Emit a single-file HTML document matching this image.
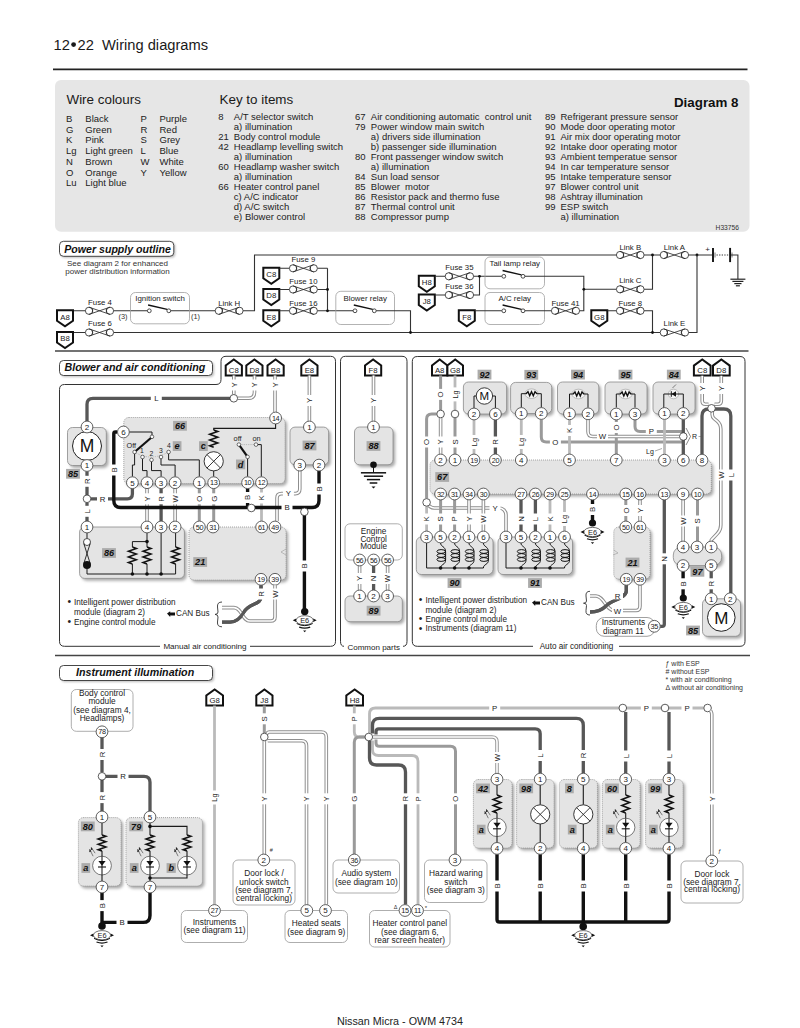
<!DOCTYPE html>
<html><head><meta charset="utf-8"><style>
html,body{margin:0;padding:0;background:#fff;}
svg{display:block;}
text{font-family:"Liberation Sans", sans-serif;}
</style></head><body>
<svg width="800" height="1028" viewBox="0 0 800 1028">
<defs><filter id="blur" x="-10%" y="-10%" width="120%" height="120%"><feGaussianBlur stdDeviation="1.6"/></filter>
<filter id="blur2" x="-10%" y="-30%" width="120%" height="160%"><feGaussianBlur stdDeviation="0.8"/></filter></defs>
<rect x="0" y="0" width="800" height="1028" fill="#fff"/>
<text x="53.5" y="50" font-size="14.7" text-anchor="start" fill="#1a1a1a">12</text>
<circle cx="73.6" cy="44.6" r="2.4" fill="#1a1a1a" stroke="none" stroke-width="0"/>
<text x="77.6" y="50" font-size="14.7" text-anchor="start" fill="#1a1a1a">22</text>
<text x="102" y="50" font-size="14.7" text-anchor="start" fill="#1a1a1a">Wiring diagrams</text>
<line x1="53" y1="69.3" x2="747.5" y2="69.3" stroke="#222" stroke-width="1.8"/>
<rect x="55" y="80" width="694.5" height="151.8" rx="6" fill="#e6e6e6" stroke="none" stroke-width="1"/>
<text x="66.5" y="104.3" font-size="13.4" text-anchor="start" fill="#1a1a1a">Wire colours</text>
<text x="219.5" y="104.3" font-size="13.4" text-anchor="start" fill="#1a1a1a">Key to items</text>
<text x="738.5" y="107" font-size="13.35" text-anchor="end" font-weight="bold" fill="#111">Diagram 8</text>
<text x="739" y="229.8" font-size="6.7" text-anchor="end" fill="#333">H33756</text>
<text x="66" y="121.8" font-size="9.5" text-anchor="start" fill="#222">B</text>
<text x="85.3" y="121.8" font-size="9.5" text-anchor="start" fill="#222">Black</text>
<text x="66" y="132.55" font-size="9.5" text-anchor="start" fill="#222">G</text>
<text x="85.3" y="132.55" font-size="9.5" text-anchor="start" fill="#222">Green</text>
<text x="66" y="143.3" font-size="9.5" text-anchor="start" fill="#222">K</text>
<text x="85.3" y="143.3" font-size="9.5" text-anchor="start" fill="#222">Pink</text>
<text x="66" y="154.05" font-size="9.5" text-anchor="start" fill="#222">Lg</text>
<text x="85.3" y="154.05" font-size="9.5" text-anchor="start" fill="#222">Light green</text>
<text x="66" y="164.8" font-size="9.5" text-anchor="start" fill="#222">N</text>
<text x="85.3" y="164.8" font-size="9.5" text-anchor="start" fill="#222">Brown</text>
<text x="66" y="175.55" font-size="9.5" text-anchor="start" fill="#222">O</text>
<text x="85.3" y="175.55" font-size="9.5" text-anchor="start" fill="#222">Orange</text>
<text x="66" y="186.3" font-size="9.5" text-anchor="start" fill="#222">Lu</text>
<text x="85.3" y="186.3" font-size="9.5" text-anchor="start" fill="#222">Light blue</text>
<text x="140.5" y="121.8" font-size="9.5" text-anchor="start" fill="#222">P</text>
<text x="159.5" y="121.8" font-size="9.5" text-anchor="start" fill="#222">Purple</text>
<text x="140.5" y="132.55" font-size="9.5" text-anchor="start" fill="#222">R</text>
<text x="159.5" y="132.55" font-size="9.5" text-anchor="start" fill="#222">Red</text>
<text x="140.5" y="143.3" font-size="9.5" text-anchor="start" fill="#222">S</text>
<text x="159.5" y="143.3" font-size="9.5" text-anchor="start" fill="#222">Grey</text>
<text x="140.5" y="154.05" font-size="9.5" text-anchor="start" fill="#222">L</text>
<text x="159.5" y="154.05" font-size="9.5" text-anchor="start" fill="#222">Blue</text>
<text x="140.5" y="164.8" font-size="9.5" text-anchor="start" fill="#222">W</text>
<text x="159.5" y="164.8" font-size="9.5" text-anchor="start" fill="#222">White</text>
<text x="140.5" y="175.55" font-size="9.5" text-anchor="start" fill="#222">Y</text>
<text x="159.5" y="175.55" font-size="9.5" text-anchor="start" fill="#222">Yellow</text>
<text x="218.3" y="120" font-size="9.5" text-anchor="start" fill="#222">8</text>
<text x="233.8" y="120" font-size="9.5" text-anchor="start" fill="#222" xml:space="preserve">A/T selector switch</text>
<text x="233.8" y="130" font-size="9.5" text-anchor="start" fill="#222" xml:space="preserve">a) illumination</text>
<text x="218.3" y="140" font-size="9.5" text-anchor="start" fill="#222">21</text>
<text x="233.8" y="140" font-size="9.5" text-anchor="start" fill="#222" xml:space="preserve">Body control module</text>
<text x="218.3" y="150" font-size="9.5" text-anchor="start" fill="#222">42</text>
<text x="233.8" y="150" font-size="9.5" text-anchor="start" fill="#222" xml:space="preserve">Headlamp levelling switch</text>
<text x="233.8" y="160" font-size="9.5" text-anchor="start" fill="#222" xml:space="preserve">a) illumination</text>
<text x="218.3" y="170" font-size="9.5" text-anchor="start" fill="#222">60</text>
<text x="233.8" y="170" font-size="9.5" text-anchor="start" fill="#222" xml:space="preserve">Headlamp washer switch</text>
<text x="233.8" y="180" font-size="9.5" text-anchor="start" fill="#222" xml:space="preserve">a) illumination</text>
<text x="218.3" y="190" font-size="9.5" text-anchor="start" fill="#222">66</text>
<text x="233.8" y="190" font-size="9.5" text-anchor="start" fill="#222" xml:space="preserve">Heater control panel</text>
<text x="233.8" y="200" font-size="9.5" text-anchor="start" fill="#222" xml:space="preserve">c) A/C indicator</text>
<text x="233.8" y="210" font-size="9.5" text-anchor="start" fill="#222" xml:space="preserve">d) A/C switch</text>
<text x="233.8" y="220" font-size="9.5" text-anchor="start" fill="#222" xml:space="preserve">e) Blower control</text>
<text x="355" y="120" font-size="9.5" text-anchor="start" fill="#222">67</text>
<text x="370.8" y="120" font-size="9.5" text-anchor="start" fill="#222" xml:space="preserve">Air conditioning automatic  control unit</text>
<text x="355" y="130" font-size="9.5" text-anchor="start" fill="#222">79</text>
<text x="370.8" y="130" font-size="9.5" text-anchor="start" fill="#222" xml:space="preserve">Power window main switch</text>
<text x="370.8" y="140" font-size="9.5" text-anchor="start" fill="#222" xml:space="preserve">a) drivers side illumination</text>
<text x="370.8" y="150" font-size="9.5" text-anchor="start" fill="#222" xml:space="preserve">b) passenger side illumination</text>
<text x="355" y="160" font-size="9.5" text-anchor="start" fill="#222">80</text>
<text x="370.8" y="160" font-size="9.5" text-anchor="start" fill="#222" xml:space="preserve">Front passenger window switch</text>
<text x="370.8" y="170" font-size="9.5" text-anchor="start" fill="#222" xml:space="preserve">a) illumination</text>
<text x="355" y="180" font-size="9.5" text-anchor="start" fill="#222">84</text>
<text x="370.8" y="180" font-size="9.5" text-anchor="start" fill="#222" xml:space="preserve">Sun load sensor</text>
<text x="355" y="190" font-size="9.5" text-anchor="start" fill="#222">85</text>
<text x="370.8" y="190" font-size="9.5" text-anchor="start" fill="#222" xml:space="preserve">Blower  motor</text>
<text x="355" y="200" font-size="9.5" text-anchor="start" fill="#222">86</text>
<text x="370.8" y="200" font-size="9.5" text-anchor="start" fill="#222" xml:space="preserve">Resistor pack and thermo fuse</text>
<text x="355" y="210" font-size="9.5" text-anchor="start" fill="#222">87</text>
<text x="370.8" y="210" font-size="9.5" text-anchor="start" fill="#222" xml:space="preserve">Thermal control unit</text>
<text x="355" y="220" font-size="9.5" text-anchor="start" fill="#222">88</text>
<text x="370.8" y="220" font-size="9.5" text-anchor="start" fill="#222" xml:space="preserve">Compressor pump</text>
<text x="545" y="120" font-size="9.5" text-anchor="start" fill="#222">89</text>
<text x="560.5" y="120" font-size="9.5" text-anchor="start" fill="#222" xml:space="preserve">Refrigerant pressure sensor</text>
<text x="545" y="130" font-size="9.5" text-anchor="start" fill="#222">90</text>
<text x="560.5" y="130" font-size="9.5" text-anchor="start" fill="#222" xml:space="preserve">Mode door operating motor</text>
<text x="545" y="140" font-size="9.5" text-anchor="start" fill="#222">91</text>
<text x="560.5" y="140" font-size="9.5" text-anchor="start" fill="#222" xml:space="preserve">Air mix door operating motor</text>
<text x="545" y="150" font-size="9.5" text-anchor="start" fill="#222">92</text>
<text x="560.5" y="150" font-size="9.5" text-anchor="start" fill="#222" xml:space="preserve">Intake door operating motor</text>
<text x="545" y="160" font-size="9.5" text-anchor="start" fill="#222">93</text>
<text x="560.5" y="160" font-size="9.5" text-anchor="start" fill="#222" xml:space="preserve">Ambient temperatue sensor</text>
<text x="545" y="170" font-size="9.5" text-anchor="start" fill="#222">94</text>
<text x="560.5" y="170" font-size="9.5" text-anchor="start" fill="#222" xml:space="preserve">In car temperature sensor</text>
<text x="545" y="180" font-size="9.5" text-anchor="start" fill="#222">95</text>
<text x="560.5" y="180" font-size="9.5" text-anchor="start" fill="#222" xml:space="preserve">Intake temperature sensor</text>
<text x="545" y="190" font-size="9.5" text-anchor="start" fill="#222">97</text>
<text x="560.5" y="190" font-size="9.5" text-anchor="start" fill="#222" xml:space="preserve">Blower control unit</text>
<text x="545" y="200" font-size="9.5" text-anchor="start" fill="#222">98</text>
<text x="560.5" y="200" font-size="9.5" text-anchor="start" fill="#222" xml:space="preserve">Ashtray illumination</text>
<text x="545" y="210" font-size="9.5" text-anchor="start" fill="#222">99</text>
<text x="560.5" y="210" font-size="9.5" text-anchor="start" fill="#222" xml:space="preserve">ESP switch</text>
<text x="560.5" y="220" font-size="9.5" text-anchor="start" fill="#222" xml:space="preserve">a) illumination</text>
<rect x="61" y="242.8" width="114.3" height="15" rx="4" fill="#bdbdbd" filter="url(#blur2)"/>
<rect x="59.5" y="241.3" width="114.3" height="15" rx="4" fill="#fff" stroke="#333" stroke-width="0.9"/>
<text x="64.3" y="252.5" font-size="10.6" text-anchor="start" font-weight="bold" font-style="italic" fill="#111">Power supply outline</text>
<text x="117.5" y="266.3" font-size="8" text-anchor="middle" fill="#333">See diagram 2 for enhanced</text>
<text x="117.5" y="274.3" font-size="8" text-anchor="middle" fill="#333">power distribution information</text>
<line x1="55" y1="351" x2="748.5" y2="351" stroke="#444" stroke-width="1.6"/>
<path d="M73 310.8 L85.4 310.8 M113.6 310.8 L147.3 310.8 M170.6 310.8 L215.1 310.8 M243.1 310.8 L254.5 310.8 L254.5 255 L616.4 255" stroke="#333" stroke-width="1.1" fill="none"/>
<path d="M57 310.3 L73 310.3 L73 320.8 L65.0 326.3 L57 320.8 Z" fill="#fff" stroke="#111" stroke-width="2.0" stroke-linejoin="miter"/>
<text x="65.0" y="319.56" font-size="7.8" text-anchor="middle" fill="#222">A8</text>
<circle cx="89" cy="310.8" r="3.6" fill="#fff" stroke="#222" stroke-width="0.8"/>
<circle cx="110" cy="310.8" r="3.6" fill="#fff" stroke="#222" stroke-width="0.8"/>
<path d="M89 307.2 L110 314.40000000000003 M89 314.40000000000003 L110 307.2 M92.6 308.82 L92.6 312.78000000000003 M106.4 308.82 L106.4 312.78000000000003" stroke="#222" stroke-width="0.8" fill="none"/>
<text x="100" y="305.2" font-size="7.8" text-anchor="middle" fill="#222">Fuse 4</text>
<rect x="130.5" y="292.5" width="59.0" height="31.30000000000001" rx="5" fill="none" stroke="#a0a0a0" stroke-width="0.8"/>
<text x="160.0" y="301.3" font-size="7.9" text-anchor="middle" fill="#222">Ignition switch</text>
<circle cx="149.3" cy="310.8" r="1.9" fill="#fff" stroke="#222" stroke-width="0.8"/>
<circle cx="168.8" cy="310.8" r="1.9" fill="#fff" stroke="#222" stroke-width="0.8"/>
<line x1="148.10000000000002" y1="305.0" x2="167.20000000000002" y2="309.40000000000003" stroke="#111" stroke-width="1.3"/>
<text x="123" y="318.8" font-size="7.4" text-anchor="middle" fill="#333">(3)</text>
<text x="195.5" y="318.8" font-size="7.4" text-anchor="middle" fill="#333">(1)</text>
<circle cx="218.8" cy="310.8" r="3.6" fill="#fff" stroke="#222" stroke-width="0.8"/>
<circle cx="239.5" cy="310.8" r="3.6" fill="#fff" stroke="#222" stroke-width="0.8"/>
<path d="M218.8 307.2 L239.5 314.40000000000003 M218.8 314.40000000000003 L239.5 307.2 M222.4 308.82 L222.4 312.78000000000003 M235.9 308.82 L235.9 312.78000000000003" stroke="#222" stroke-width="0.8" fill="none"/>
<text x="229.2" y="305.5" font-size="7.8" text-anchor="middle" fill="#222">Link H</text>
<path d="M73 332.5 L85.4 332.5 M113.6 332.5 L660.2 332.5" stroke="#333" stroke-width="1.1" fill="none"/>
<path d="M57 332.0 L73 332.0 L73 342.5 L65.0 348.0 L57 342.5 Z" fill="#fff" stroke="#111" stroke-width="2.0" stroke-linejoin="miter"/>
<text x="65.0" y="341.26" font-size="7.8" text-anchor="middle" fill="#222">B8</text>
<circle cx="89" cy="332.5" r="3.6" fill="#fff" stroke="#222" stroke-width="0.8"/>
<circle cx="110" cy="332.5" r="3.6" fill="#fff" stroke="#222" stroke-width="0.8"/>
<path d="M89 328.9 L110 336.1 M89 336.1 L110 328.9 M92.6 330.52 L92.6 334.48 M106.4 330.52 L106.4 334.48" stroke="#222" stroke-width="0.8" fill="none"/>
<text x="100" y="326" font-size="7.8" text-anchor="middle" fill="#222">Fuse 6</text>
<path d="M263.3 267.8 L279.3 267.8 L279.3 278.3 L271.3 283.8 L263.3 278.3 Z" fill="#fff" stroke="#111" stroke-width="2.0" stroke-linejoin="miter"/>
<text x="271.3" y="277.06" font-size="7.8" text-anchor="middle" fill="#222">C8</text>
<path d="M279.5 268.3 L289.4 268.3 M317.4 268.3 L327.5 268.3" stroke="#333" stroke-width="1.1" fill="none"/>
<circle cx="293" cy="268.3" r="3.6" fill="#fff" stroke="#222" stroke-width="0.8"/>
<circle cx="313.8" cy="268.3" r="3.6" fill="#fff" stroke="#222" stroke-width="0.8"/>
<path d="M293 264.7 L313.8 271.90000000000003 M293 271.90000000000003 L313.8 264.7 M296.6 266.32 L296.6 270.28000000000003 M310.2 266.32 L310.2 270.28000000000003" stroke="#222" stroke-width="0.8" fill="none"/>
<text x="303.4" y="262" font-size="7.8" text-anchor="middle" fill="#222">Fuse 9</text>
<path d="M263.3 289.0 L279.3 289.0 L279.3 299.5 L271.3 305.0 L263.3 299.5 Z" fill="#fff" stroke="#111" stroke-width="2.0" stroke-linejoin="miter"/>
<text x="271.3" y="298.26" font-size="7.8" text-anchor="middle" fill="#222">D8</text>
<path d="M279.5 289.5 L289.4 289.5 M317.4 289.5 L327.5 289.5" stroke="#333" stroke-width="1.1" fill="none"/>
<circle cx="293" cy="289.5" r="3.6" fill="#fff" stroke="#222" stroke-width="0.8"/>
<circle cx="313.8" cy="289.5" r="3.6" fill="#fff" stroke="#222" stroke-width="0.8"/>
<path d="M293 285.9 L313.8 293.1 M293 293.1 L313.8 285.9 M296.6 287.52 L296.6 291.48 M310.2 287.52 L310.2 291.48" stroke="#222" stroke-width="0.8" fill="none"/>
<text x="303.4" y="283.8" font-size="7.8" text-anchor="middle" fill="#222">Fuse 10</text>
<path d="M263.3 310.3 L279.3 310.3 L279.3 320.8 L271.3 326.3 L263.3 320.8 Z" fill="#fff" stroke="#111" stroke-width="2.0" stroke-linejoin="miter"/>
<text x="271.3" y="319.56" font-size="7.8" text-anchor="middle" fill="#222">E8</text>
<path d="M279.5 310.8 L289.4 310.8 M317.4 310.8 L327.5 310.8" stroke="#333" stroke-width="1.1" fill="none"/>
<circle cx="293" cy="310.8" r="3.6" fill="#fff" stroke="#222" stroke-width="0.8"/>
<circle cx="313.8" cy="310.8" r="3.6" fill="#fff" stroke="#222" stroke-width="0.8"/>
<path d="M293 307.2 L313.8 314.40000000000003 M293 314.40000000000003 L313.8 307.2 M296.6 308.82 L296.6 312.78000000000003 M310.2 308.82 L310.2 312.78000000000003" stroke="#222" stroke-width="0.8" fill="none"/>
<text x="303.4" y="305.5" font-size="7.8" text-anchor="middle" fill="#222">Fuse 16</text>
<path d="M327.5 268.3 L327.5 310.8 L353.1 310.8" stroke="#333" stroke-width="1.1" fill="none"/>
<circle cx="327.5" cy="289.5" r="1.4" fill="#111" stroke="none" stroke-width="0"/>
<circle cx="327.5" cy="310.8" r="1.4" fill="#111" stroke="none" stroke-width="0"/>
<rect x="335.8" y="291.3" width="58.69999999999999" height="33.19999999999999" rx="5" fill="none" stroke="#a0a0a0" stroke-width="0.8"/>
<text x="365.15" y="301.3" font-size="7.9" text-anchor="middle" fill="#222">Blower relay</text>
<circle cx="355" cy="310.8" r="1.9" fill="#fff" stroke="#222" stroke-width="0.8"/>
<circle cx="374.3" cy="310.8" r="1.9" fill="#fff" stroke="#222" stroke-width="0.8"/>
<line x1="353.8" y1="305.0" x2="372.7" y2="309.40000000000003" stroke="#111" stroke-width="1.3"/>
<path d="M376.2 310.8 L410.5 310.8 L410.5 332.5" stroke="#333" stroke-width="1.1" fill="none"/>
<circle cx="410.5" cy="332.5" r="1.4" fill="#111" stroke="none" stroke-width="0"/>
<path d="M418.8 275.8 L434.8 275.8 L434.8 286.3 L426.8 291.8 L418.8 286.3 Z" fill="#fff" stroke="#111" stroke-width="2.0" stroke-linejoin="miter"/>
<text x="426.8" y="285.06" font-size="7.8" text-anchor="middle" fill="#222">H8</text>
<path d="M418.8 294.5 L434.8 294.5 L434.8 305.0 L426.8 310.5 L418.8 305.0 Z" fill="#fff" stroke="#111" stroke-width="2.0" stroke-linejoin="miter"/>
<text x="426.8" y="303.76" font-size="7.8" text-anchor="middle" fill="#222">J8</text>
<path d="M434.8 276.3 L445.2 276.3 M473.6 276.3 L501.8 276.3 M434.8 295 L445.2 295 M473.6 295 L479.5 295 L479.5 276.3" stroke="#333" stroke-width="1.1" fill="none"/>
<circle cx="448.8" cy="276.3" r="3.6" fill="#fff" stroke="#222" stroke-width="0.8"/>
<circle cx="470" cy="276.3" r="3.6" fill="#fff" stroke="#222" stroke-width="0.8"/>
<path d="M448.8 272.7 L470 279.90000000000003 M448.8 279.90000000000003 L470 272.7 M452.40000000000003 274.32 L452.40000000000003 278.28000000000003 M466.4 274.32 L466.4 278.28000000000003" stroke="#222" stroke-width="0.8" fill="none"/>
<text x="459.4" y="270" font-size="7.8" text-anchor="middle" fill="#222">Fuse 35</text>
<circle cx="448.8" cy="295" r="3.6" fill="#fff" stroke="#222" stroke-width="0.8"/>
<circle cx="470" cy="295" r="3.6" fill="#fff" stroke="#222" stroke-width="0.8"/>
<path d="M448.8 291.4 L470 298.6 M448.8 298.6 L470 291.4 M452.40000000000003 293.02 L452.40000000000003 296.98 M466.4 293.02 L466.4 296.98" stroke="#222" stroke-width="0.8" fill="none"/>
<text x="459.4" y="289.3" font-size="7.8" text-anchor="middle" fill="#222">Fuse 36</text>
<circle cx="479.5" cy="276.3" r="1.4" fill="#111" stroke="none" stroke-width="0"/>
<rect x="485" y="257" width="59.5" height="31.80000000000001" rx="5" fill="none" stroke="#a0a0a0" stroke-width="0.8"/>
<text x="514.75" y="266.3" font-size="7.9" text-anchor="middle" fill="#222">Tail lamp relay</text>
<circle cx="503.8" cy="276.3" r="1.9" fill="#fff" stroke="#222" stroke-width="0.8"/>
<circle cx="523" cy="276.3" r="1.9" fill="#fff" stroke="#222" stroke-width="0.8"/>
<line x1="502.6" y1="270.5" x2="521.4" y2="274.90000000000003" stroke="#111" stroke-width="1.3"/>
<rect x="485" y="292.5" width="59.5" height="32.0" rx="5" fill="none" stroke="#a0a0a0" stroke-width="0.8"/>
<text x="514.75" y="301.3" font-size="7.9" text-anchor="middle" fill="#222">A/C relay</text>
<circle cx="503.8" cy="310.8" r="1.9" fill="#fff" stroke="#222" stroke-width="0.8"/>
<circle cx="523" cy="310.8" r="1.9" fill="#fff" stroke="#222" stroke-width="0.8"/>
<line x1="502.6" y1="305.0" x2="521.4" y2="309.40000000000003" stroke="#111" stroke-width="1.3"/>
<path d="M458.8 310.3 L474.8 310.3 L474.8 320.8 L466.8 326.3 L458.8 320.8 Z" fill="#fff" stroke="#111" stroke-width="2.0" stroke-linejoin="miter"/>
<text x="466.8" y="319.56" font-size="7.8" text-anchor="middle" fill="#222">F8</text>
<path d="M474.8 310.8 L501.8 310.8 M524.9 310.8 L551.4 310.8 M579.6 310.8 L583.8 310.8 L583.8 276.3 L524.9 276.3" stroke="#333" stroke-width="1.1" fill="none"/>
<circle cx="555" cy="310.8" r="3.6" fill="#fff" stroke="#222" stroke-width="0.8"/>
<circle cx="576" cy="310.8" r="3.6" fill="#fff" stroke="#222" stroke-width="0.8"/>
<path d="M555 307.2 L576 314.40000000000003 M555 314.40000000000003 L576 307.2 M558.6 308.82 L558.6 312.78000000000003 M572.4 308.82 L572.4 312.78000000000003" stroke="#222" stroke-width="0.8" fill="none"/>
<text x="565.5" y="305.5" font-size="7.8" text-anchor="middle" fill="#222">Fuse 41</text>
<path d="M583.8 289.3 L616.4 289.3 M644.1 289.3 L652.5 289.3 L652.5 255" stroke="#333" stroke-width="1.1" fill="none"/>
<circle cx="583.8" cy="289.3" r="1.4" fill="#111" stroke="none" stroke-width="0"/>
<circle cx="620" cy="289.3" r="3.6" fill="#fff" stroke="#222" stroke-width="0.8"/>
<circle cx="640.5" cy="289.3" r="3.6" fill="#fff" stroke="#222" stroke-width="0.8"/>
<path d="M620 285.7 L640.5 292.90000000000003 M620 292.90000000000003 L640.5 285.7 M623.6 287.32 L623.6 291.28000000000003 M636.9 287.32 L636.9 291.28000000000003" stroke="#222" stroke-width="0.8" fill="none"/>
<text x="630.3" y="282.5" font-size="7.8" text-anchor="middle" fill="#222">Link C</text>
<circle cx="620" cy="255" r="3.6" fill="#fff" stroke="#222" stroke-width="0.8"/>
<circle cx="640.5" cy="255" r="3.6" fill="#fff" stroke="#222" stroke-width="0.8"/>
<path d="M620 251.4 L640.5 258.6 M620 258.6 L640.5 251.4 M623.6 253.02 L623.6 256.98 M636.9 253.02 L636.9 256.98" stroke="#222" stroke-width="0.8" fill="none"/>
<text x="630.3" y="249.5" font-size="7.8" text-anchor="middle" fill="#222">Link B</text>
<path d="M644.1 255 L660.2 255 M688.6 255 L712 255" stroke="#333" stroke-width="1.1" fill="none"/>
<circle cx="652.5" cy="255" r="1.4" fill="#111" stroke="none" stroke-width="0"/>
<circle cx="663.8" cy="255" r="3.6" fill="#fff" stroke="#222" stroke-width="0.8"/>
<circle cx="685" cy="255" r="3.6" fill="#fff" stroke="#222" stroke-width="0.8"/>
<path d="M663.8 251.4 L685 258.6 M663.8 258.6 L685 251.4 M667.4 253.02 L667.4 256.98 M681.4 253.02 L681.4 256.98" stroke="#222" stroke-width="0.8" fill="none"/>
<text x="674.4" y="249.5" font-size="7.8" text-anchor="middle" fill="#222">Link A</text>
<circle cx="697" cy="255" r="1.4" fill="#111" stroke="none" stroke-width="0"/>
<path d="M591.3 310.3 L607.3 310.3 L607.3 320.8 L599.3 326.3 L591.3 320.8 Z" fill="#fff" stroke="#111" stroke-width="2.0" stroke-linejoin="miter"/>
<text x="599.3" y="319.56" font-size="7.8" text-anchor="middle" fill="#222">G8</text>
<path d="M607.5 310.8 L616.4 310.8 M644.1 310.8 L652.5 310.8 L652.5 332.5" stroke="#333" stroke-width="1.1" fill="none"/>
<circle cx="620" cy="310.8" r="3.6" fill="#fff" stroke="#222" stroke-width="0.8"/>
<circle cx="640.5" cy="310.8" r="3.6" fill="#fff" stroke="#222" stroke-width="0.8"/>
<path d="M620 307.2 L640.5 314.40000000000003 M620 314.40000000000003 L640.5 307.2 M623.6 308.82 L623.6 312.78000000000003 M636.9 308.82 L636.9 312.78000000000003" stroke="#222" stroke-width="0.8" fill="none"/>
<text x="630.3" y="305.5" font-size="7.8" text-anchor="middle" fill="#222">Fuse 8</text>
<circle cx="652.5" cy="332.5" r="1.4" fill="#111" stroke="none" stroke-width="0"/>
<circle cx="663.8" cy="332.5" r="3.6" fill="#fff" stroke="#222" stroke-width="0.8"/>
<circle cx="685" cy="332.5" r="3.6" fill="#fff" stroke="#222" stroke-width="0.8"/>
<path d="M663.8 328.9 L685 336.1 M663.8 336.1 L685 328.9 M667.4 330.52 L667.4 334.48 M681.4 330.52 L681.4 334.48" stroke="#222" stroke-width="0.8" fill="none"/>
<text x="674.4" y="326.3" font-size="7.8" text-anchor="middle" fill="#222">Link E</text>
<path d="M688.6 332.5 L697 332.5 L697 255" stroke="#333" stroke-width="1.1" fill="none"/>
<line x1="713" y1="247.9" x2="713" y2="262.1" stroke="#111" stroke-width="1.9"/>
<line x1="715" y1="252.5" x2="715" y2="257.5" stroke="#777" stroke-width="1"/>
<line x1="716.5" y1="255" x2="729" y2="255" stroke="#333" stroke-width="1" stroke-dasharray="1.3 1.3"/>
<line x1="730.1" y1="247.9" x2="730.1" y2="262.1" stroke="#111" stroke-width="1.9"/>
<line x1="732" y1="252.5" x2="732" y2="257.5" stroke="#777" stroke-width="1"/>
<text x="707.6" y="252.3" font-size="8" text-anchor="middle" fill="#222">+</text>
<path d="M731 255 L737.9 255 L737.9 279" stroke="#333" stroke-width="1.1" fill="none"/>
<line x1="730.4" y1="279.2" x2="745.4" y2="279.2" stroke="#222" stroke-width="1.2"/>
<line x1="732.4" y1="281.4" x2="743.4" y2="281.4" stroke="#222" stroke-width="1.2"/>
<line x1="734.3" y1="283.59999999999997" x2="741.5" y2="283.59999999999997" stroke="#222" stroke-width="1.2"/>
<line x1="735.9" y1="285.8" x2="739.9" y2="285.8" stroke="#222" stroke-width="1.2"/>
<rect x="61.1" y="362.1" width="153.0" height="15.0" rx="4" fill="#bdbdbd" filter="url(#blur2)"/>
<rect x="59.5" y="360.5" width="153.0" height="15.0" rx="4" fill="#fff" stroke="#333" stroke-width="0.9"/>
<text x="64.5" y="371.3" font-size="10.7" text-anchor="start" font-weight="bold" font-style="italic" fill="#111">Blower and air conditioning</text>
<path d="M160 646.3 L64.5 646.3 Q59.5 646.3 59.5 641.3 L59.5 389.5 Q59.5 384.5 64.5 384.5 L216 384.5 Q221 384.5 221 379.5 L221 361.3 Q221 356.3 226 356.3 L330.5 356.3 Q335.5 356.3 335.5 361.3 L335.5 641.3 Q335.5 646.3 330.5 646.3 L250 646.3" stroke="#333" stroke-width="1.0" fill="none"/>
<text x="205" y="649" font-size="8.1" text-anchor="middle" fill="#222">Manual air conditioning</text>
<path d="M344 646.3 Q340.5 646.3 340.5 641.3 L340.5 361.3 Q340.5 356.3 345.5 356.3 L402 356.3 Q407 356.3 407 361.3 L407 641.3 Q407 646.3 403 646.3" stroke="#333" stroke-width="1.0" fill="none"/>
<text x="373.7" y="649.6" font-size="8.0" text-anchor="middle" fill="#222">Common parts</text>
<path d="M533 646.3 L417.3 646.3 Q412.3 646.3 412.3 641.3 L412.3 361.5 Q412.3 356.5 417.3 356.5 L740 356.5 Q745 356.5 745 361.5 L745 641.3 Q745 646.3 740 646.3 L619 646.3" stroke="#333" stroke-width="1.0" fill="none"/>
<text x="576.5" y="649" font-size="8.15" text-anchor="middle" fill="#222">Auto air conditioning</text>
<line x1="55" y1="655.5" x2="750" y2="655.5" stroke="#444" stroke-width="1.6"/>
<path d="M225.7 375.5 L241.89999999999998 375.5 L241.89999999999998 365.5 L233.79999999999998 359.5 L225.7 365.5 Z" fill="#fff" stroke="#111" stroke-width="2.0" stroke-linejoin="miter"/>
<text x="233.79999999999998" y="373.01" font-size="7.8" text-anchor="middle" fill="#222">C8</text>
<path d="M246.3 375.5 L262.5 375.5 L262.5 365.5 L254.4 359.5 L246.3 365.5 Z" fill="#fff" stroke="#111" stroke-width="2.0" stroke-linejoin="miter"/>
<text x="254.4" y="373.01" font-size="7.8" text-anchor="middle" fill="#222">D8</text>
<path d="M267.5 375.5 L283.7 375.5 L283.7 365.5 L275.6 359.5 L267.5 365.5 Z" fill="#fff" stroke="#111" stroke-width="2.0" stroke-linejoin="miter"/>
<text x="275.6" y="373.01" font-size="7.8" text-anchor="middle" fill="#222">B8</text>
<path d="M301.3 375.5 L317.5 375.5 L317.5 365.5 L309.40000000000003 359.5 L301.3 365.5 Z" fill="#fff" stroke="#111" stroke-width="2.0" stroke-linejoin="miter"/>
<text x="309.40000000000003" y="373.01" font-size="7.8" text-anchor="middle" fill="#222">E8</text>
<path d="M365 375.5 L381.2 375.5 L381.2 365.5 L373.1 359.5 L365 365.5 Z" fill="#fff" stroke="#111" stroke-width="2.0" stroke-linejoin="miter"/>
<text x="373.1" y="373.01" font-size="7.8" text-anchor="middle" fill="#222">F8</text>
<rect x="69.7" y="429.9" width="38.8" height="38.0" rx="5" fill="#a9a9a9" filter="url(#blur)"/>
<rect x="67.5" y="427.5" width="38.8" height="38.0" rx="5" fill="#e4e4e4" stroke="#8a8a8a" stroke-width="0.8"/>
<circle cx="87" cy="446" r="14.5" fill="#fff" stroke="#222" stroke-width="1.0"/>
<text x="87" y="452.3" font-size="17.5" text-anchor="middle" fill="#111">M</text>
<rect x="66.08" y="468.9" width="13.83" height="9.8" rx="0" fill="#ababab" stroke="none" stroke-width="1"/>
<text x="73" y="477.11" font-size="9.2" text-anchor="middle" font-weight="bold" font-style="italic" fill="#111">85</text>
<rect x="126.0" y="419.9" width="161.2" height="66.10000000000002" rx="5" fill="#a9a9a9" filter="url(#blur)"/>
<rect x="123.8" y="417.5" width="161.2" height="66.10000000000002" rx="5" fill="#e4e4e4" stroke="#888" stroke-width="0.8" stroke-dasharray="0.9 1.1"/>
<rect x="173.08" y="420.9" width="13.83" height="9.8" rx="0" fill="#ababab" stroke="none" stroke-width="1"/>
<text x="180" y="429.11" font-size="9.2" text-anchor="middle" font-weight="bold" font-style="italic" fill="#111">66</text>
<rect x="292.2" y="429.5" width="38.60000000000002" height="37.69999999999999" rx="5" fill="#a9a9a9" filter="url(#blur)"/>
<rect x="290" y="427.1" width="38.60000000000002" height="37.69999999999999" rx="5" fill="#e4e4e4" stroke="#8a8a8a" stroke-width="0.8"/>
<rect x="302.58" y="440.6" width="13.83" height="9.8" rx="0" fill="#ababab" stroke="none" stroke-width="1"/>
<text x="309.5" y="448.81" font-size="9.2" text-anchor="middle" font-weight="bold" font-style="italic" fill="#111">87</text>
<rect x="356.7" y="429.4" width="38.5" height="37.80000000000001" rx="5" fill="#a9a9a9" filter="url(#blur)"/>
<rect x="354.5" y="427" width="38.5" height="37.80000000000001" rx="5" fill="#e4e4e4" stroke="#8a8a8a" stroke-width="0.8"/>
<rect x="366.58" y="441.1" width="13.83" height="9.8" rx="0" fill="#ababab" stroke="none" stroke-width="1"/>
<text x="373.5" y="449.31" font-size="9.2" text-anchor="middle" font-weight="bold" font-style="italic" fill="#111">88</text>
<path d="M233.8 375.5 L233.8 394.5" stroke="#8e8e8e" stroke-width="3.6" fill="none" stroke-linejoin="round" stroke-linecap="butt"/>
<path d="M233.8 375.5 L233.8 394.5" stroke="#fff" stroke-width="1.6" fill="none" stroke-linejoin="round" stroke-linecap="butt"/>
<path d="M254.5 375.5 L254.50 392.30 Q254.5 398.3 248.50 398.30 L237.6 398.3" stroke="#8e8e8e" stroke-width="3.6" fill="none" stroke-linejoin="round" stroke-linecap="butt"/>
<path d="M254.5 375.5 L254.50 392.30 Q254.5 398.3 248.50 398.30 L237.6 398.3" stroke="#fff" stroke-width="1.6" fill="none" stroke-linejoin="round" stroke-linecap="butt"/>
<path d="M230 398.3 L93.00 398.30 Q87 398.3 87.00 404.30 L87 421" stroke="#575757" stroke-width="3.3" fill="none" stroke-linejoin="round"/>
<circle cx="233.8" cy="398.3" r="3.8" fill="#fff" stroke="#333" stroke-width="0.8"/>
<rect x="150.8" y="395.3" width="11" height="6" rx="0" fill="#fff" stroke="none" stroke-width="1"/>
<text x="156.3" y="401.11" font-size="7.8" text-anchor="middle" fill="#1a1a1a">L</text>
<path d="M275 375.5 L275 412.1" stroke="#8e8e8e" stroke-width="3.6" fill="none" stroke-linejoin="round" stroke-linecap="butt"/>
<path d="M275 375.5 L275 412.1" stroke="#fff" stroke-width="1.6" fill="none" stroke-linejoin="round" stroke-linecap="butt"/>
<path d="M309.4 375.5 L309.4 421" stroke="#8e8e8e" stroke-width="3.6" fill="none" stroke-linejoin="round" stroke-linecap="butt"/>
<path d="M309.4 375.5 L309.4 421" stroke="#fff" stroke-width="1.6" fill="none" stroke-linejoin="round" stroke-linecap="butt"/>
<path d="M373.5 375.5 L373.5 421" stroke="#8e8e8e" stroke-width="3.6" fill="none" stroke-linejoin="round" stroke-linecap="butt"/>
<path d="M373.5 375.5 L373.5 421" stroke="#fff" stroke-width="1.6" fill="none" stroke-linejoin="round" stroke-linecap="butt"/>
<rect x="230.8" y="379.5" width="6" height="11" rx="0" fill="#fff" stroke="none" stroke-width="1"/>
<text x="236.608" y="385" font-size="7.8" text-anchor="middle" fill="#1a1a1a" transform="rotate(-90 236.608 385)">Y</text>
<rect x="251.5" y="379.5" width="6" height="11" rx="0" fill="#fff" stroke="none" stroke-width="1"/>
<text x="257.308" y="385" font-size="7.8" text-anchor="middle" fill="#1a1a1a" transform="rotate(-90 257.308 385)">Y</text>
<rect x="272" y="379.5" width="6" height="11" rx="0" fill="#fff" stroke="none" stroke-width="1"/>
<text x="277.808" y="385" font-size="7.8" text-anchor="middle" fill="#1a1a1a" transform="rotate(-90 277.808 385)">Y</text>
<rect x="306.4" y="395.0" width="6" height="11" rx="0" fill="#fff" stroke="none" stroke-width="1"/>
<text x="312.20799999999997" y="400.5" font-size="7.8" text-anchor="middle" fill="#1a1a1a" transform="rotate(-90 312.20799999999997 400.5)">Y</text>
<rect x="370.5" y="395.0" width="6" height="11" rx="0" fill="#fff" stroke="none" stroke-width="1"/>
<text x="376.308" y="400.5" font-size="7.8" text-anchor="middle" fill="#1a1a1a" transform="rotate(-90 376.308 400.5)">Y</text>
<path d="M129.3 432 L152 432 L152 435" stroke="#1a1a1a" stroke-width="1.0" fill="none"/>
<line x1="152" y1="437" x2="134.6" y2="452" stroke="#111" stroke-width="2.2"/>
<path d="M134.6 452 Q150 462 168.6 452" stroke="#888" stroke-width="0.6" fill="none" stroke-dasharray="0.8 1"/>
<circle cx="152" cy="436.8" r="1.8" fill="#fff" stroke="#333" stroke-width="0.7"/>
<circle cx="134.6" cy="452" r="1.8" fill="#fff" stroke="#333" stroke-width="0.7"/>
<circle cx="142.5" cy="457" r="1.8" fill="#fff" stroke="#333" stroke-width="0.7"/>
<circle cx="151.5" cy="459.9" r="1.8" fill="#fff" stroke="#333" stroke-width="0.7"/>
<circle cx="161" cy="457" r="1.8" fill="#fff" stroke="#333" stroke-width="0.7"/>
<circle cx="168.6" cy="452" r="1.8" fill="#fff" stroke="#333" stroke-width="0.7"/>
<text x="131.3" y="448.3" font-size="7.3" text-anchor="middle" fill="#222">Off</text>
<text x="142" y="453.1" font-size="6.8" text-anchor="middle" fill="#222">1</text>
<text x="151.3" y="456" font-size="6.8" text-anchor="middle" fill="#222">2</text>
<text x="161" y="453.1" font-size="6.8" text-anchor="middle" fill="#222">3</text>
<text x="169" y="448" font-size="6.8" text-anchor="middle" fill="#222">4</text>
<path d="M134.6 453.8 L134.6 465 L132.4 465 L132.4 476.6" stroke="#1a1a1a" stroke-width="1.0" fill="none"/>
<path d="M142.5 458.8 L142.5 470.6 L147 470.6 L147 476.6" stroke="#1a1a1a" stroke-width="1.0" fill="none"/>
<path d="M151.5 461.7 L151.5 470.6 L161.1 470.6 L161.1 476.6" stroke="#1a1a1a" stroke-width="1.0" fill="none"/>
<path d="M161 458.8 L161 465 L175.1 465 L175.1 476.6" stroke="#1a1a1a" stroke-width="1.0" fill="none"/>
<path d="M168.6 453.8 L168.6 459.9 L199.3 459.9 L199.3 476.6" stroke="#1a1a1a" stroke-width="1.0" fill="none"/>
<rect x="172.74" y="441.2" width="8.72" height="9.8" rx="0" fill="#ababab" stroke="none" stroke-width="1"/>
<text x="177.1" y="449.41" font-size="9.2" text-anchor="middle" font-weight="bold" font-style="italic" fill="#111">e</text>
<rect x="199.04" y="441.2" width="8.72" height="9.8" rx="0" fill="#ababab" stroke="none" stroke-width="1"/>
<text x="203.4" y="449.41" font-size="9.2" text-anchor="middle" font-weight="bold" font-style="italic" fill="#111">c</text>
<path d="M275.6 424 L275.6 428.4 L213.7 428.4 L213.7 430" stroke="#1a1a1a" stroke-width="1.1" fill="none"/>
<path d="M213.7 430 L217.7 431.44 L209.7 434.32 L217.7 437.21 L209.7 440.09 L217.7 442.98 L209.7 445.86 L213.7 447.3" stroke="#111" stroke-width="1.6" fill="none" stroke-linejoin="miter"/>
<circle cx="213.7" cy="461.3" r="9.6" fill="#fff" stroke="#222" stroke-width="0.9"/>
<path d="M206.91183999999998 454.51184 L220.48816 468.08816 M206.91183999999998 468.08816 L220.48816 454.51184" stroke="#222" stroke-width="0.9" fill="none"/>
<line x1="213.7" y1="470.9" x2="213.7" y2="476.6" stroke="#1a1a1a" stroke-width="1.0"/>
<line x1="238.9" y1="444.6" x2="256" y2="444.6" stroke="#888" stroke-width="0.6" stroke-dasharray="0.8 1"/>
<line x1="238.9" y1="444.6" x2="247.6" y2="456.9" stroke="#111" stroke-width="2.2"/>
<circle cx="238.9" cy="444.6" r="1.8" fill="#fff" stroke="#333" stroke-width="0.7"/>
<circle cx="256" cy="444.6" r="1.8" fill="#fff" stroke="#333" stroke-width="0.7"/>
<circle cx="247.6" cy="456.9" r="1.8" fill="#fff" stroke="#333" stroke-width="0.7"/>
<text x="237.6" y="440.8" font-size="7.4" text-anchor="middle" fill="#222">off</text>
<text x="256.5" y="440.8" font-size="7.4" text-anchor="middle" fill="#222">on</text>
<path d="M247.6 458.7 L247.6 476.6" stroke="#1a1a1a" stroke-width="1.0" fill="none"/>
<path d="M257.8 444.6 L261.3 444.6 L261.3 476.6" stroke="#1a1a1a" stroke-width="1.0" fill="none"/>
<rect x="235.99" y="459.5" width="9.22" height="9.8" rx="0" fill="#ababab" stroke="none" stroke-width="1"/>
<text x="240.6" y="467.71" font-size="9.2" text-anchor="middle" font-weight="bold" font-style="italic" fill="#111">d</text>
<circle cx="373.5" cy="464.8" r="3.3" fill="#111" stroke="none" stroke-width="0"/>
<line x1="373.5" y1="464.8" x2="373.5" y2="472.5" stroke="#111" stroke-width="1.0"/>
<line x1="360.9" y1="472.8" x2="386.1" y2="472.8" stroke="#111" stroke-width="1.5"/>
<line x1="363.9" y1="476.2" x2="383.1" y2="476.2" stroke="#111" stroke-width="1.5"/>
<line x1="366.9" y1="479.6" x2="380.1" y2="479.6" stroke="#111" stroke-width="1.5"/>
<line x1="369.7" y1="483.0" x2="377.3" y2="483.0" stroke="#111" stroke-width="1.5"/>
<path d="M371.5 486.5 L375.5 486.5 L373.5 488.5 Z" fill="#111"/>
<path d="M304.4 511 L304.4 611" stroke="#111111" stroke-width="3.4" fill="none" stroke-linejoin="round"/>
<rect x="301.4" y="560.5" width="6" height="11" rx="0" fill="#fff" stroke="none" stroke-width="1"/>
<text x="307.20799999999997" y="566" font-size="7.8" text-anchor="middle" fill="#1a1a1a" transform="rotate(-90 307.20799999999997 566)">B</text>
<circle cx="304.7" cy="611.6" r="3.7" fill="#111" stroke="none" stroke-width="0"/>
<path d="M292.7 620.3 l3.5 -1.8 l0 3.6 Z M316.7 620.3 l-3.5 -1.8 l0 3.6 Z" fill="#111"/>
<ellipse cx="304.7" cy="620.3" rx="8.6" ry="4.6" fill="#fff" stroke="#333" stroke-width="0.7"/>
<text x="304.7" y="622.96" font-size="7.4" text-anchor="middle" fill="#222">E6</text>
<path d="M296.7 623.5 Q304.7 627.8 312.7 623.5" stroke="#111" stroke-width="1.0" fill="none"/>
<path d="M299.2 627.0999999999999 Q304.7 629.3 310.2 627.0999999999999" stroke="#111" stroke-width="1.2" fill="none"/>
<path d="M303.09999999999997 630.5999999999999 L306.3 630.5999999999999 L304.7 632.3 Z" fill="#111"/>
<path d="M87 471.4 L87 495" stroke="#575757" stroke-width="3.3" fill="none" stroke-linejoin="round"/>
<rect x="84" y="475.8" width="6" height="11" rx="0" fill="#fff" stroke="none" stroke-width="1"/>
<text x="89.80799999999999" y="481.3" font-size="7.8" text-anchor="middle" fill="#1a1a1a" transform="rotate(-90 89.80799999999999 481.3)">R</text>
<path d="M132.4 488.5 L132.40 493.80 Q132.4 498.8 127.40 498.80 L90.8 498.8" stroke="#575757" stroke-width="3.3" fill="none" stroke-linejoin="round"/>
<rect x="97.0" y="495.8" width="11" height="6" rx="0" fill="#fff" stroke="none" stroke-width="1"/>
<text x="102.5" y="501.61" font-size="7.8" text-anchor="middle" fill="#1a1a1a">R</text>
<circle cx="87" cy="498.8" r="3.8" fill="#fff" stroke="#333" stroke-width="0.8"/>
<path d="M87 502.6 L87 521.1" stroke="#575757" stroke-width="3.3" fill="none" stroke-linejoin="round"/>
<rect x="84" y="505.8" width="6" height="11" rx="0" fill="#fff" stroke="none" stroke-width="1"/>
<text x="89.80799999999999" y="511.3" font-size="7.8" text-anchor="middle" fill="#1a1a1a" transform="rotate(-90 89.80799999999999 511.3)">L</text>
<path d="M147 488.5 L147 521.1" stroke="#8e8e8e" stroke-width="3.6" fill="none" stroke-linejoin="round" stroke-linecap="butt"/>
<path d="M147 488.5 L147 521.1" stroke="#fff" stroke-width="1.6" fill="none" stroke-linejoin="round" stroke-linecap="butt"/>
<rect x="144" y="493.3" width="6" height="11" rx="0" fill="#fff" stroke="none" stroke-width="1"/>
<text x="149.808" y="498.8" font-size="7.8" text-anchor="middle" fill="#1a1a1a" transform="rotate(-90 149.808 498.8)">Y</text>
<path d="M161.1 488.5 L161.1 521.1" stroke="#575757" stroke-width="3.3" fill="none" stroke-linejoin="round"/>
<rect x="158.1" y="493.3" width="6" height="11" rx="0" fill="#fff" stroke="none" stroke-width="1"/>
<text x="163.908" y="498.8" font-size="7.8" text-anchor="middle" fill="#1a1a1a" transform="rotate(-90 163.908 498.8)">R</text>
<path d="M175.1 488.5 L175.1 521.1" stroke="#8e8e8e" stroke-width="3.6" fill="none" stroke-linejoin="round" stroke-linecap="butt"/>
<path d="M175.1 488.5 L175.1 521.1" stroke="#fff" stroke-width="1.6" fill="none" stroke-linejoin="round" stroke-linecap="butt"/>
<rect x="172.1" y="493.3" width="6" height="11" rx="0" fill="#fff" stroke="none" stroke-width="1"/>
<text x="177.908" y="498.8" font-size="7.8" text-anchor="middle" fill="#1a1a1a" transform="rotate(-90 177.908 498.8)">W</text>
<path d="M199.3 488.5 L199.3 521.1" stroke="#9a9a9a" stroke-width="3.0" fill="none" stroke-linejoin="round"/>
<rect x="196.3" y="493.3" width="6" height="11" rx="0" fill="#fff" stroke="none" stroke-width="1"/>
<text x="202.108" y="498.8" font-size="7.8" text-anchor="middle" fill="#1a1a1a" transform="rotate(-90 202.108 498.8)">O</text>
<path d="M213.7 488.5 L213.7 521.1" stroke="#9a9a9a" stroke-width="3.0" fill="none" stroke-linejoin="round"/>
<rect x="210.7" y="493.3" width="6" height="11" rx="0" fill="#fff" stroke="none" stroke-width="1"/>
<text x="216.50799999999998" y="498.8" font-size="7.8" text-anchor="middle" fill="#1a1a1a" transform="rotate(-90 216.50799999999998 498.8)">G</text>
<path d="M261.5 488.5 L261.5 521.1" stroke="#bababa" stroke-width="2.8" fill="none" stroke-linejoin="round"/>
<rect x="258.5" y="492.5" width="6" height="11" rx="0" fill="#fff" stroke="none" stroke-width="1"/>
<text x="264.308" y="498" font-size="7.8" text-anchor="middle" fill="#1a1a1a" transform="rotate(-90 264.308 498)">K</text>
<path d="M299.8 471 L299.80 489.10 Q299.8 493.6 295.30 493.60 L281.50 493.60 Q277 493.6 277.00 498.10 L277 521.1" stroke="#8e8e8e" stroke-width="3.6" fill="none" stroke-linejoin="round" stroke-linecap="butt"/>
<path d="M299.8 471 L299.80 489.10 Q299.8 493.6 295.30 493.60 L281.50 493.60 Q277 493.6 277.00 498.10 L277 521.1" stroke="#fff" stroke-width="1.6" fill="none" stroke-linejoin="round" stroke-linecap="butt"/>
<rect x="282.9" y="490.6" width="11" height="6" rx="0" fill="#fff" stroke="none" stroke-width="1"/>
<text x="288.4" y="496.41" font-size="7.8" text-anchor="middle" fill="#1a1a1a">Y</text>
<path d="M117.1 432 L115.45 432.00 Q113.8 432 113.80 433.65 L113.80 500.50 Q113.8 507.5 120.80 507.50 L312.00 507.50 Q319 507.5 319.00 500.50 L319 471" stroke="#111111" stroke-width="3.4" fill="none" stroke-linejoin="round"/>
<rect x="110.8" y="464.5" width="6" height="11" rx="0" fill="#fff" stroke="none" stroke-width="1"/>
<text x="116.608" y="470" font-size="7.8" text-anchor="middle" fill="#1a1a1a" transform="rotate(-90 116.608 470)">B</text>
<rect x="281.5" y="504.5" width="11" height="6" rx="0" fill="#fff" stroke="none" stroke-width="1"/>
<text x="287" y="510.31" font-size="7.8" text-anchor="middle" fill="#1a1a1a">B</text>
<rect x="316" y="483.5" width="6" height="11" rx="0" fill="#fff" stroke="none" stroke-width="1"/>
<text x="321.808" y="489" font-size="7.8" text-anchor="middle" fill="#1a1a1a" transform="rotate(-90 321.808 489)">B</text>
<path d="M247.6 488.5 L247.6 507.5" stroke="#111111" stroke-width="3.4" fill="none" stroke-linejoin="round"/>
<circle cx="251.3" cy="508" r="3.8" fill="#fff" stroke="#333" stroke-width="0.8"/>
<rect x="244.6" y="492.0" width="6" height="11" rx="0" fill="#fff" stroke="none" stroke-width="1"/>
<text x="250.408" y="497.5" font-size="7.8" text-anchor="middle" fill="#1a1a1a" transform="rotate(-90 250.408 497.5)">B</text>
<circle cx="304.4" cy="511.8" r="3.8" fill="#fff" stroke="#333" stroke-width="0.8"/>
<rect x="81.8" y="529.4" width="104.80000000000001" height="51.39999999999998" rx="5" fill="#a9a9a9" filter="url(#blur)"/>
<rect x="79.6" y="527" width="104.80000000000001" height="51.39999999999998" rx="5" fill="#e4e4e4" stroke="#8a8a8a" stroke-width="0.8"/>
<rect x="102.08" y="548.1" width="13.83" height="9.8" rx="0" fill="#ababab" stroke="none" stroke-width="1"/>
<text x="109" y="556.31" font-size="9.2" text-anchor="middle" font-weight="bold" font-style="italic" fill="#111">86</text>
<path d="M87 533 L87 538.5" stroke="#1a1a1a" stroke-width="1.0" fill="none"/>
<circle cx="87" cy="542" r="3.5" fill="#fff" stroke="#222" stroke-width="0.8"/>
<path d="M83.8 543.5 L90.2 563.5 M90.2 543.5 L83.8 563.5" stroke="#1a1a1a" stroke-width="0.9" fill="none"/>
<circle cx="87" cy="565" r="4" fill="#111" stroke="none" stroke-width="0"/>
<path d="M87 568 L87 574 L175.6 574 L175.6 564" stroke="#1a1a1a" stroke-width="1.0" fill="none"/>
<path d="M147 533 L147 547 M147 541.6 L132.4 541.6 L132.4 547" stroke="#1a1a1a" stroke-width="1.0" fill="none"/>
<path d="M132.4 547 L136.4 548.42 L128.4 551.25 L136.4 554.08 L128.4 556.92 L136.4 559.75 L128.4 562.58 L132.4 564" stroke="#111" stroke-width="1.5" fill="none" stroke-linejoin="miter"/>
<path d="M147 547 L151 548.42 L143 551.25 L151 554.08 L143 556.92 L151 559.75 L143 562.58 L147 564" stroke="#111" stroke-width="1.5" fill="none" stroke-linejoin="miter"/>
<path d="M175.6 547 L179.6 548.42 L171.6 551.25 L179.6 554.08 L171.6 556.92 L179.6 559.75 L171.6 562.58 L175.6 564" stroke="#111" stroke-width="1.5" fill="none" stroke-linejoin="miter"/>
<path d="M132.4 564 L132.4 574 M147 564 L147 574 M161.1 533 L161.1 574 M175.6 533 L175.6 547" stroke="#1a1a1a" stroke-width="1.0" fill="none"/>
<circle cx="132.4" cy="574" r="1.8" fill="#111" stroke="none" stroke-width="0"/>
<circle cx="147" cy="574" r="1.8" fill="#111" stroke="none" stroke-width="0"/>
<circle cx="161.1" cy="574" r="1.8" fill="#111" stroke="none" stroke-width="0"/>
<circle cx="147" cy="541.6" r="1.8" fill="#111" stroke="none" stroke-width="0"/>
<rect x="191.2" y="529.4" width="97" height="53" rx="5" fill="#a9a9a9" filter="url(#blur)"/>
<rect x="189" y="527" width="97" height="53" rx="5" fill="#e4e4e4" stroke="#888" stroke-width="0.8" stroke-dasharray="0.9 1.1"/>
<rect x="193.28" y="557.1" width="13.83" height="9.8" rx="0" fill="#ababab" stroke="none" stroke-width="1"/>
<text x="200.2" y="565.31" font-size="9.2" text-anchor="middle" font-weight="bold" font-style="italic" fill="#111">21</text>
<path d="M286 549 L281 552 L286 555" stroke="#999" stroke-width="0.6" fill="none"/>
<circle cx="87" cy="427" r="5.9" fill="#fff" stroke="#444" stroke-width="0.85"/>
<text x="87" y="429.88" font-size="8.0" text-anchor="middle" fill="#222">2</text>
<circle cx="87" cy="465.5" r="5.9" fill="#fff" stroke="#444" stroke-width="0.85"/>
<text x="87" y="468.38" font-size="8.0" text-anchor="middle" fill="#222">1</text>
<circle cx="123.4" cy="432" r="5.9" fill="#fff" stroke="#444" stroke-width="0.85"/>
<text x="123.4" y="434.88" font-size="8.0" text-anchor="middle" fill="#222">6</text>
<circle cx="275.6" cy="418" r="5.9" fill="#fff" stroke="#444" stroke-width="0.85"/>
<text x="275.6" y="420.63" font-size="7.3" text-anchor="middle" fill="#222" letter-spacing="-0.35">14</text>
<circle cx="132.4" cy="482.7" r="5.9" fill="#fff" stroke="#444" stroke-width="0.85"/>
<text x="132.4" y="485.58" font-size="8.0" text-anchor="middle" fill="#222">5</text>
<circle cx="147" cy="482.7" r="5.9" fill="#fff" stroke="#444" stroke-width="0.85"/>
<text x="147" y="485.58" font-size="8.0" text-anchor="middle" fill="#222">4</text>
<circle cx="161.1" cy="482.7" r="5.9" fill="#fff" stroke="#444" stroke-width="0.85"/>
<text x="161.1" y="485.58" font-size="8.0" text-anchor="middle" fill="#222">3</text>
<circle cx="175.1" cy="482.7" r="5.9" fill="#fff" stroke="#444" stroke-width="0.85"/>
<text x="175.1" y="485.58" font-size="8.0" text-anchor="middle" fill="#222">2</text>
<circle cx="199.3" cy="482.7" r="5.9" fill="#fff" stroke="#444" stroke-width="0.85"/>
<text x="199.3" y="485.58" font-size="8.0" text-anchor="middle" fill="#222">1</text>
<circle cx="213.7" cy="482.7" r="5.9" fill="#fff" stroke="#444" stroke-width="0.85"/>
<text x="213.7" y="485.33" font-size="7.3" text-anchor="middle" fill="#222" letter-spacing="-0.35">13</text>
<circle cx="247.6" cy="482.7" r="5.9" fill="#fff" stroke="#444" stroke-width="0.85"/>
<text x="247.6" y="485.33" font-size="7.3" text-anchor="middle" fill="#222" letter-spacing="-0.35">10</text>
<circle cx="261.5" cy="482.7" r="5.9" fill="#fff" stroke="#444" stroke-width="0.85"/>
<text x="261.5" y="485.33" font-size="7.3" text-anchor="middle" fill="#222" letter-spacing="-0.35">12</text>
<circle cx="309.4" cy="427" r="5.9" fill="#fff" stroke="#444" stroke-width="0.85"/>
<text x="309.4" y="429.88" font-size="8.0" text-anchor="middle" fill="#222">1</text>
<circle cx="299.8" cy="465.1" r="5.9" fill="#fff" stroke="#444" stroke-width="0.85"/>
<text x="299.8" y="467.98" font-size="8.0" text-anchor="middle" fill="#222">3</text>
<circle cx="319" cy="465.1" r="5.9" fill="#fff" stroke="#444" stroke-width="0.85"/>
<text x="319" y="467.98" font-size="8.0" text-anchor="middle" fill="#222">2</text>
<circle cx="373.5" cy="427" r="5.9" fill="#fff" stroke="#444" stroke-width="0.85"/>
<text x="373.5" y="429.88" font-size="8.0" text-anchor="middle" fill="#222">1</text>
<circle cx="87" cy="527" r="5.9" fill="#fff" stroke="#444" stroke-width="0.85"/>
<text x="87" y="529.88" font-size="8.0" text-anchor="middle" fill="#222">1</text>
<circle cx="147" cy="527" r="5.9" fill="#fff" stroke="#444" stroke-width="0.85"/>
<text x="147" y="529.88" font-size="8.0" text-anchor="middle" fill="#222">4</text>
<circle cx="161.1" cy="527" r="5.9" fill="#fff" stroke="#444" stroke-width="0.85"/>
<text x="161.1" y="529.88" font-size="8.0" text-anchor="middle" fill="#222">3</text>
<circle cx="175.1" cy="527" r="5.9" fill="#fff" stroke="#444" stroke-width="0.85"/>
<text x="175.1" y="529.88" font-size="8.0" text-anchor="middle" fill="#222">2</text>
<circle cx="199.4" cy="527" r="5.9" fill="#fff" stroke="#444" stroke-width="0.85"/>
<text x="199.4" y="529.63" font-size="7.3" text-anchor="middle" fill="#222" letter-spacing="-0.35">50</text>
<circle cx="213" cy="527" r="5.9" fill="#fff" stroke="#444" stroke-width="0.85"/>
<text x="213" y="529.63" font-size="7.3" text-anchor="middle" fill="#222" letter-spacing="-0.35">31</text>
<circle cx="261.6" cy="527" r="5.9" fill="#fff" stroke="#444" stroke-width="0.85"/>
<text x="261.6" y="529.63" font-size="7.3" text-anchor="middle" fill="#222" letter-spacing="-0.35">61</text>
<circle cx="275" cy="527" r="5.9" fill="#fff" stroke="#444" stroke-width="0.85"/>
<text x="275" y="529.63" font-size="7.3" text-anchor="middle" fill="#222" letter-spacing="-0.35">49</text>
<circle cx="261" cy="579.3" r="5.9" fill="#fff" stroke="#444" stroke-width="0.85"/>
<text x="261" y="581.93" font-size="7.3" text-anchor="middle" fill="#222" letter-spacing="-0.35">19</text>
<circle cx="275" cy="579.3" r="5.9" fill="#fff" stroke="#444" stroke-width="0.85"/>
<text x="275" y="581.93" font-size="7.3" text-anchor="middle" fill="#222" letter-spacing="-0.35">39</text>
<path d="M261 585.2 L261 596 C261 606 250 602 244 612 C240 619 236 622.2 230 622.2 L222 622.2" stroke="#575757" stroke-width="3.3" fill="none" stroke-linejoin="round"/>
<path d="M275 585.2 L275 617 Q275 621 271 621 L250 621 C242 621 242 607.6 234 607.6 L222 607.6" stroke="#8e8e8e" stroke-width="3.6" fill="none" stroke-linejoin="round" stroke-linecap="butt"/>
<path d="M275 585.2 L275 617 Q275 621 271 621 L250 621 C242 621 242 607.6 234 607.6 L222 607.6" stroke="#fff" stroke-width="1.6" fill="none" stroke-linejoin="round" stroke-linecap="butt"/>
<path d="M261 585.2 L261 596 C261 606 250 602 244 612 C240 619 236 622.2 230 622.2 L222 622.2" stroke="#575757" stroke-width="3.3" fill="none" stroke-linejoin="round"/>
<rect x="258" y="588.5" width="6" height="11" rx="0" fill="#fff" stroke="none" stroke-width="1"/>
<text x="263.808" y="594" font-size="7.8" text-anchor="middle" fill="#1a1a1a" transform="rotate(-90 263.808 594)">R</text>
<rect x="272" y="588.5" width="6" height="11" rx="0" fill="#fff" stroke="none" stroke-width="1"/>
<text x="277.808" y="594" font-size="7.8" text-anchor="middle" fill="#1a1a1a" transform="rotate(-90 277.808 594)">W</text>
<path d="M222 602 Q217 602 217.5 607 L218 612 Q218 614.4 215 614.4 Q218 614.4 218 617 L217.5 622 Q217 626.8 222 626.8" stroke="#333" stroke-width="0.9" fill="none"/>
<path d="M167 613.6 L170.2 611.2 L170.2 612.6 L175 612.6 L175 615.6 L170.2 615.6 L170.2 617.0 Z" fill="#111"/>
<text x="176" y="616.2" font-size="8.2" text-anchor="start" fill="#222">CAN Bus</text>
<text x="69.4" y="605.3" font-size="10.25" text-anchor="middle" fill="#222">•</text>
<text x="74" y="605" font-size="8.2" text-anchor="start" fill="#222">Intelligent power distribution</text>
<text x="74" y="614.6" font-size="8.2" text-anchor="start" fill="#222">module (diagram 2)</text>
<text x="69.4" y="624.9" font-size="10.25" text-anchor="middle" fill="#222">•</text>
<text x="74" y="624.6" font-size="8.2" text-anchor="start" fill="#222">Engine control module</text>
<rect x="345" y="523.8" width="57.30000000000001" height="36.200000000000045" rx="5" fill="#fff" stroke="#999" stroke-width="0.8"/>
<text x="373.6" y="533.8" font-size="8.2" text-anchor="middle" fill="#222">Engine</text>
<text x="373.6" y="541.7" font-size="8.2" text-anchor="middle" fill="#222">Control</text>
<text x="373.6" y="549.4" font-size="8.2" text-anchor="middle" fill="#222">Module</text>
<rect x="347.2" y="598.4" width="57.30000000000001" height="25.700000000000045" rx="5" fill="#a9a9a9" filter="url(#blur)"/>
<rect x="345" y="596" width="57.30000000000001" height="25.700000000000045" rx="5" fill="#e4e4e4" stroke="#8a8a8a" stroke-width="0.8"/>
<rect x="366.68" y="605.8" width="13.83" height="9.8" rx="0" fill="#ababab" stroke="none" stroke-width="1"/>
<text x="373.6" y="614.01" font-size="9.2" text-anchor="middle" font-weight="bold" font-style="italic" fill="#111">89</text>
<path d="M359.6 566 L359.6 590" stroke="#8e8e8e" stroke-width="3.6" fill="none" stroke-linejoin="round" stroke-linecap="butt"/>
<path d="M359.6 566 L359.6 590" stroke="#fff" stroke-width="1.6" fill="none" stroke-linejoin="round" stroke-linecap="butt"/>
<rect x="356.6" y="573.0" width="6" height="11" rx="0" fill="#fff" stroke="none" stroke-width="1"/>
<text x="362.408" y="578.5" font-size="7.8" text-anchor="middle" fill="#1a1a1a" transform="rotate(-90 362.408 578.5)">Y</text>
<path d="M373.6 566 L373.6 590" stroke="#575757" stroke-width="3.3" fill="none" stroke-linejoin="round"/>
<rect x="370.6" y="573.0" width="6" height="11" rx="0" fill="#fff" stroke="none" stroke-width="1"/>
<text x="376.408" y="578.5" font-size="7.8" text-anchor="middle" fill="#1a1a1a" transform="rotate(-90 376.408 578.5)">N</text>
<path d="M387.6 566 L387.6 590" stroke="#8e8e8e" stroke-width="3.6" fill="none" stroke-linejoin="round" stroke-linecap="butt"/>
<path d="M387.6 566 L387.6 590" stroke="#fff" stroke-width="1.6" fill="none" stroke-linejoin="round" stroke-linecap="butt"/>
<rect x="384.6" y="573.0" width="6" height="11" rx="0" fill="#fff" stroke="none" stroke-width="1"/>
<text x="390.408" y="578.5" font-size="7.8" text-anchor="middle" fill="#1a1a1a" transform="rotate(-90 390.408 578.5)">W</text>
<circle cx="359.6" cy="560" r="5.9" fill="#fff" stroke="#444" stroke-width="0.85"/>
<text x="359.6" y="562.63" font-size="7.3" text-anchor="middle" fill="#222" letter-spacing="-0.35">56</text>
<circle cx="373.6" cy="560" r="5.9" fill="#fff" stroke="#444" stroke-width="0.85"/>
<text x="373.6" y="562.63" font-size="7.3" text-anchor="middle" fill="#222" letter-spacing="-0.35">56</text>
<circle cx="387.6" cy="560" r="5.9" fill="#fff" stroke="#444" stroke-width="0.85"/>
<text x="387.6" y="562.63" font-size="7.3" text-anchor="middle" fill="#222" letter-spacing="-0.35">56</text>
<circle cx="359.6" cy="596" r="5.9" fill="#fff" stroke="#444" stroke-width="0.85"/>
<text x="359.6" y="598.88" font-size="8.0" text-anchor="middle" fill="#222">1</text>
<circle cx="373.6" cy="596" r="5.9" fill="#fff" stroke="#444" stroke-width="0.85"/>
<text x="373.6" y="598.88" font-size="8.0" text-anchor="middle" fill="#222">2</text>
<circle cx="387.6" cy="596" r="5.9" fill="#fff" stroke="#444" stroke-width="0.85"/>
<text x="387.6" y="598.88" font-size="8.0" text-anchor="middle" fill="#222">3</text>
<path d="M432 375.4 L447.4 375.4 L447.4 365.4 L439.7 359.4 L432 365.4 Z" fill="#fff" stroke="#111" stroke-width="2.0" stroke-linejoin="miter"/>
<text x="439.7" y="372.91" font-size="7.8" text-anchor="middle" fill="#222">A8</text>
<path d="M447.4 375.4 L463.0 375.4 L463.0 365.4 L455.2 359.4 L447.4 365.4 Z" fill="#fff" stroke="#111" stroke-width="2.0" stroke-linejoin="miter"/>
<text x="455.2" y="372.91" font-size="7.8" text-anchor="middle" fill="#222">G8</text>
<path d="M693.9 375.4 L710.6 375.4 L710.6 365.59999999999997 L702.25 359.4 L693.9 365.59999999999997 Z" fill="#fff" stroke="#111" stroke-width="2" stroke-linejoin="miter"/>
<text x="702.25" y="373.01" font-size="7.8" text-anchor="middle" fill="#222">C8</text>
<path d="M713 375.4 L729.7 375.4 L729.7 365.59999999999997 L721.35 359.4 L713 365.59999999999997 Z" fill="#fff" stroke="#111" stroke-width="2" stroke-linejoin="miter"/>
<text x="721.35" y="373.01" font-size="7.8" text-anchor="middle" fill="#222">D8</text>
<rect x="465.59999999999997" y="384.4" width="43.200000000000045" height="32" rx="5" fill="#a9a9a9" filter="url(#blur)"/>
<rect x="463.4" y="382" width="43.200000000000045" height="32" rx="5" fill="#e4e4e4" stroke="#8a8a8a" stroke-width="0.8"/>
<rect x="477.58" y="369.7" width="13.83" height="9.8" rx="0" fill="#ababab" stroke="none" stroke-width="1"/>
<text x="484.5" y="377.91" font-size="9.2" text-anchor="middle" font-weight="bold" font-style="italic" fill="#111">92</text>
<rect x="512.8000000000001" y="384.79999999999995" width="41.10000000000002" height="31.100000000000023" rx="5" fill="#a9a9a9" filter="url(#blur)"/>
<rect x="510.6" y="382.4" width="41.10000000000002" height="31.100000000000023" rx="5" fill="#e4e4e4" stroke="#8a8a8a" stroke-width="0.8"/>
<rect x="524.38" y="369.9" width="13.83" height="9.8" rx="0" fill="#ababab" stroke="none" stroke-width="1"/>
<text x="531.3" y="378.11" font-size="9.2" text-anchor="middle" font-weight="bold" font-style="italic" fill="#111">93</text>
<rect x="559.7" y="384.4" width="41.299999999999955" height="32" rx="5" fill="#a9a9a9" filter="url(#blur)"/>
<rect x="557.5" y="382" width="41.299999999999955" height="32" rx="5" fill="#e4e4e4" stroke="#8a8a8a" stroke-width="0.8"/>
<rect x="571.08" y="369.7" width="13.83" height="9.8" rx="0" fill="#ababab" stroke="none" stroke-width="1"/>
<text x="578" y="377.91" font-size="9.2" text-anchor="middle" font-weight="bold" font-style="italic" fill="#111">94</text>
<rect x="607.2" y="384.4" width="42" height="32" rx="5" fill="#a9a9a9" filter="url(#blur)"/>
<rect x="605" y="382" width="42" height="32" rx="5" fill="#e4e4e4" stroke="#8a8a8a" stroke-width="0.8"/>
<rect x="618.58" y="369.7" width="13.83" height="9.8" rx="0" fill="#ababab" stroke="none" stroke-width="1"/>
<text x="625.5" y="377.91" font-size="9.2" text-anchor="middle" font-weight="bold" font-style="italic" fill="#111">95</text>
<rect x="655.2" y="384.4" width="42" height="32" rx="5" fill="#a9a9a9" filter="url(#blur)"/>
<rect x="653" y="382" width="42" height="32" rx="5" fill="#e4e4e4" stroke="#8a8a8a" stroke-width="0.8"/>
<rect x="666.88" y="369.7" width="13.83" height="9.8" rx="0" fill="#ababab" stroke="none" stroke-width="1"/>
<text x="673.8" y="377.91" font-size="9.2" text-anchor="middle" font-weight="bold" font-style="italic" fill="#111">84</text>
<path d="M474 408 L474 396 L476.2 396 M492.6 396 L495.4 396 L495.4 408" stroke="#1a1a1a" stroke-width="1.0" fill="none"/>
<circle cx="484.4" cy="396" r="8.2" fill="#fff" stroke="#222" stroke-width="0.9"/>
<text x="484.4" y="400.3" font-size="11.5" text-anchor="middle" fill="#111">M</text>
<ellipse cx="531.5" cy="393.7" rx="6.6" ry="4.8" fill="#f4f4f4" stroke="#9a9a9a" stroke-width="0.6"/>
<path d="M521.3 407.5 L521.3 393.7 L526.5 393.7 M536.5 393.7 L541.3 393.7 L541.3 407.5" stroke="#1a1a1a" stroke-width="1.0" fill="none"/>
<path d="M526.0 393.7 L528.0 391.7 L529.7 395.7 L531.5 391.7 L533.3 395.7 L535.0 391.7 L537.0 393.7" stroke="#111" stroke-width="1.4" fill="none"/>
<ellipse cx="578.5" cy="394" rx="6.6" ry="4.8" fill="#f4f4f4" stroke="#9a9a9a" stroke-width="0.6"/>
<path d="M569.5 407.5 L569.5 394 L573.5 394 M583.5 394 L588 394 L588 407.5" stroke="#1a1a1a" stroke-width="1.0" fill="none"/>
<path d="M573.0 394 L575.0 392 L576.7 396 L578.5 392 L580.3 396 L582.0 392 L584.0 394" stroke="#111" stroke-width="1.4" fill="none"/>
<ellipse cx="625.6" cy="394" rx="6.6" ry="4.8" fill="#f4f4f4" stroke="#9a9a9a" stroke-width="0.6"/>
<path d="M616.3 407.5 L616.3 394 L620.6 394 M630.6 394 L635 394 L635 407.5" stroke="#1a1a1a" stroke-width="1.0" fill="none"/>
<path d="M620.1 394 L622.1 392 L623.8000000000001 396 L625.6 392 L627.4 396 L629.1 392 L631.1 394" stroke="#111" stroke-width="1.4" fill="none"/>
<ellipse cx="673.5" cy="394" rx="5.2" ry="4.8" fill="#f4f4f4" stroke="#9a9a9a" stroke-width="0.6"/>
<path d="M663.8 408 L663.8 394 L683.3 394 L683.3 408" stroke="#1a1a1a" stroke-width="1.0" fill="none"/>
<path d="M676.0 391.2 L676.0 396.8 L671.5 394 Z" fill="#111"/>
<line x1="671.3" y1="391.2" x2="671.3" y2="396.8" stroke="#111" stroke-width="1"/>
<path d="M672.5 388 L676.0 384.5" stroke="#333" stroke-width="0.6" fill="none"/>
<rect x="432.2" y="462.4" width="281.29999999999995" height="34" rx="5" fill="#a9a9a9" filter="url(#blur)"/>
<rect x="430" y="460" width="281.29999999999995" height="34" rx="5" fill="#e4e4e4" stroke="#888" stroke-width="0.8" stroke-dasharray="0.9 1.1"/>
<rect x="435.28" y="472.1" width="13.83" height="9.8" rx="0" fill="#ababab" stroke="none" stroke-width="1"/>
<text x="442.2" y="480.31" font-size="9.2" text-anchor="middle" font-weight="bold" font-style="italic" fill="#111">67</text>
<path d="M440.6 375.4 L440.6 410.2" stroke="#9a9a9a" stroke-width="3.0" fill="none" stroke-linejoin="round"/>
<rect x="437.6" y="388.9" width="6" height="11" rx="0" fill="#fff" stroke="none" stroke-width="1"/>
<text x="443.408" y="394.4" font-size="7.8" text-anchor="middle" fill="#1a1a1a" transform="rotate(-90 443.408 394.4)">O</text>
<path d="M455 375.4 L455 410.2" stroke="#bababa" stroke-width="2.8" fill="none" stroke-linejoin="round"/>
<rect x="452" y="387.4" width="6" height="14" rx="0" fill="#fff" stroke="none" stroke-width="1"/>
<text x="457.664" y="394.4" font-size="7.4" text-anchor="middle" fill="#1a1a1a" transform="rotate(-90 457.664 394.4)">Lg</text>
<path d="M436.8 414 L431.60 414.00 Q426.6 414 426.60 419.00 L426.6 498.6" stroke="#9a9a9a" stroke-width="3.0" fill="none" stroke-linejoin="round"/>
<rect x="423.6" y="436.5" width="6" height="11" rx="0" fill="#fff" stroke="none" stroke-width="1"/>
<text x="429.408" y="442" font-size="7.8" text-anchor="middle" fill="#1a1a1a" transform="rotate(-90 429.408 442)">O</text>
<path d="M440.6 417.8 L440.6 454" stroke="#8e8e8e" stroke-width="3.6" fill="none" stroke-linejoin="round" stroke-linecap="butt"/>
<path d="M440.6 417.8 L440.6 454" stroke="#fff" stroke-width="1.6" fill="none" stroke-linejoin="round" stroke-linecap="butt"/>
<rect x="437.6" y="436.5" width="6" height="11" rx="0" fill="#fff" stroke="none" stroke-width="1"/>
<text x="443.408" y="442" font-size="7.8" text-anchor="middle" fill="#1a1a1a" transform="rotate(-90 443.408 442)">Y</text>
<path d="M455 417.8 L455 454" stroke="#9a9a9a" stroke-width="3.0" fill="none" stroke-linejoin="round"/>
<rect x="452" y="436.5" width="6" height="11" rx="0" fill="#fff" stroke="none" stroke-width="1"/>
<text x="457.808" y="442" font-size="7.8" text-anchor="middle" fill="#1a1a1a" transform="rotate(-90 457.808 442)">S</text>
<path d="M474 420 L474 454" stroke="#bababa" stroke-width="2.8" fill="none" stroke-linejoin="round"/>
<rect x="471" y="435.0" width="6" height="14" rx="0" fill="#fff" stroke="none" stroke-width="1"/>
<text x="476.664" y="442" font-size="7.4" text-anchor="middle" fill="#1a1a1a" transform="rotate(-90 476.664 442)">Lg</text>
<path d="M495.4 420 L495.4 454" stroke="#575757" stroke-width="3.3" fill="none" stroke-linejoin="round"/>
<rect x="492.4" y="436.5" width="6" height="11" rx="0" fill="#fff" stroke="none" stroke-width="1"/>
<text x="498.20799999999997" y="442" font-size="7.8" text-anchor="middle" fill="#1a1a1a" transform="rotate(-90 498.20799999999997 442)">R</text>
<path d="M521.3 419.4 L521.3 454" stroke="#bababa" stroke-width="2.8" fill="none" stroke-linejoin="round"/>
<rect x="518.3" y="435.0" width="6" height="14" rx="0" fill="#fff" stroke="none" stroke-width="1"/>
<text x="523.9639999999999" y="442" font-size="7.4" text-anchor="middle" fill="#1a1a1a" transform="rotate(-90 523.9639999999999 442)">Lg</text>
<path d="M541.3 419.4 L541.30 437.00 Q541.3 442 546.30 442.00 L683.3 442" stroke="#9a9a9a" stroke-width="3.0" fill="none" stroke-linejoin="round"/>
<path d="M569.5 419.7 L569.5 454" stroke="#bababa" stroke-width="2.8" fill="none" stroke-linejoin="round"/>
<rect x="566.5" y="425.0" width="6" height="11" rx="0" fill="#fff" stroke="none" stroke-width="1"/>
<text x="572.308" y="430.5" font-size="7.8" text-anchor="middle" fill="#1a1a1a" transform="rotate(-90 572.308 430.5)">K</text>
<path d="M616.3 420 L616.3 454" stroke="#9a9a9a" stroke-width="3.0" fill="none" stroke-linejoin="round"/>
<rect x="613.3" y="422.0" width="6" height="11" rx="0" fill="#fff" stroke="none" stroke-width="1"/>
<text x="619.108" y="427.5" font-size="7.8" text-anchor="middle" fill="#1a1a1a" transform="rotate(-90 619.108 427.5)">O</text>
<path d="M635 420 L635.00 426.40 Q635 431.4 640.00 431.40 L683.3 431.4" stroke="#9a9a9a" stroke-width="3.0" fill="none" stroke-linejoin="round"/>
<path d="M588 419.7 L588.00 431.50 Q588 436.5 593.00 436.50 L679.5 436.5" stroke="#8e8e8e" stroke-width="3.6" fill="none" stroke-linejoin="round" stroke-linecap="butt"/>
<path d="M588 419.7 L588.00 431.50 Q588 436.5 593.00 436.50 L679.5 436.5" stroke="#fff" stroke-width="1.6" fill="none" stroke-linejoin="round" stroke-linecap="butt"/>
<rect x="549.9" y="439" width="11" height="6" rx="0" fill="#fff" stroke="none" stroke-width="1"/>
<text x="555.4" y="444.81" font-size="7.8" text-anchor="middle" fill="#1a1a1a">O</text>
<rect x="597.0" y="433.5" width="11" height="6" rx="0" fill="#fff" stroke="none" stroke-width="1"/>
<text x="602.5" y="439.31" font-size="7.8" text-anchor="middle" fill="#1a1a1a">W</text>
<rect x="645.8" y="428.4" width="11" height="6" rx="0" fill="#fff" stroke="none" stroke-width="1"/>
<text x="651.3" y="434.21" font-size="7.8" text-anchor="middle" fill="#1a1a1a">P</text>
<path d="M664.5 419.4 L664.5 454" stroke="#bababa" stroke-width="2.8" fill="none" stroke-linejoin="round"/>
<text x="650" y="453.5" font-size="7" text-anchor="middle" fill="#222">Lg</text>
<line x1="655" y1="451" x2="662" y2="448.5" stroke="#555" stroke-width="0.5"/>
<path d="M683.3 419.4 L683.3 454" stroke="#575757" stroke-width="3.3" fill="none" stroke-linejoin="round"/>
<circle cx="683.3" cy="436.5" r="3.8" fill="#fff" stroke="#333" stroke-width="0.8"/>
<path d="M686 428 L690.5 436.5 L686 445" stroke="#555" stroke-width="0.7" fill="none"/>
<text x="694.6" y="439" font-size="7" text-anchor="middle" fill="#222">R</text>
<line x1="698.5" y1="436.5" x2="702" y2="436.5" stroke="#888" stroke-width="0.7"/>
<path d="M702.2 375.8 L702.20 401.05 Q702.2 404.2 705.35 404.20 L708.5 404.2" stroke="#8e8e8e" stroke-width="3.6" fill="none" stroke-linejoin="round" stroke-linecap="butt"/>
<path d="M702.2 375.8 L702.20 401.05 Q702.2 404.2 705.35 404.20 L708.5 404.2" stroke="#fff" stroke-width="1.6" fill="none" stroke-linejoin="round" stroke-linecap="butt"/>
<path d="M721.3 375.8 L721.30 400.80 Q721.3 404.2 717.90 404.20 L714.5 404.2" stroke="#8e8e8e" stroke-width="3.6" fill="none" stroke-linejoin="round" stroke-linecap="butt"/>
<path d="M721.3 375.8 L721.30 400.80 Q721.3 404.2 717.90 404.20 L714.5 404.2" stroke="#fff" stroke-width="1.6" fill="none" stroke-linejoin="round" stroke-linecap="butt"/>
<rect x="699.2" y="383.0" width="6" height="11" rx="0" fill="#fff" stroke="none" stroke-width="1"/>
<text x="705.008" y="388.5" font-size="7.8" text-anchor="middle" fill="#1a1a1a" transform="rotate(-90 705.008 388.5)">Y</text>
<rect x="718.3" y="383.0" width="6" height="11" rx="0" fill="#fff" stroke="none" stroke-width="1"/>
<text x="724.108" y="388.5" font-size="7.8" text-anchor="middle" fill="#1a1a1a" transform="rotate(-90 724.108 388.5)">Y</text>
<path d="M702 454 L702.00 416.00 Q702 409 709.00 409.00 L723.80 409.00 Q730.8 409 730.80 416.00 L730.8 592.9" stroke="#575757" stroke-width="3.3" fill="none" stroke-linejoin="round"/>
<path d="M712.2 412 L712.20 414.50 Q712.2 417 714.14 418.58 L716.92 420.84 Q720.8 424 720.80 429.00 L720.80 525.00 Q720.8 530 717.34 533.61 L711.55 539.64 Q711.2 540 711.20 540.50 L711.2 541" stroke="#8e8e8e" stroke-width="3.6" fill="none" stroke-linejoin="round" stroke-linecap="butt"/>
<path d="M712.2 412 L712.20 414.50 Q712.2 417 714.14 418.58 L716.92 420.84 Q720.8 424 720.80 429.00 L720.80 525.00 Q720.8 530 717.34 533.61 L711.55 539.64 Q711.2 540 711.20 540.50 L711.2 541" stroke="#fff" stroke-width="1.6" fill="none" stroke-linejoin="round" stroke-linecap="butt"/>
<circle cx="711.5" cy="408.3" r="3.8" fill="#fff" stroke="#333" stroke-width="0.8"/>
<rect x="717.8" y="469.5" width="6" height="11" rx="0" fill="#fff" stroke="none" stroke-width="1"/>
<text x="723.608" y="475" font-size="7.8" text-anchor="middle" fill="#1a1a1a" transform="rotate(-90 723.608 475)">W</text>
<rect x="727.8" y="469.5" width="6" height="11" rx="0" fill="#fff" stroke="none" stroke-width="1"/>
<text x="733.608" y="475" font-size="7.8" text-anchor="middle" fill="#1a1a1a" transform="rotate(-90 733.608 475)">L</text>
<path d="M426.6 506.2 L426.6 531" stroke="#bababa" stroke-width="2.8" fill="none" stroke-linejoin="round"/>
<rect x="423.6" y="513.5" width="6" height="11" rx="0" fill="#fff" stroke="none" stroke-width="1"/>
<text x="429.408" y="519" font-size="7.8" text-anchor="middle" fill="#1a1a1a" transform="rotate(-90 429.408 519)">K</text>
<path d="M428.6 505.4 L430.30 506.70 Q432 508 434.14 508.00 L499.17 508.00 Q502 508 504.00 510.00 L504.00 510.00 Q506 512 506.00 514.83 L506 531" stroke="#8e8e8e" stroke-width="3.6" fill="none" stroke-linejoin="round" stroke-linecap="butt"/>
<path d="M428.6 505.4 L430.30 506.70 Q432 508 434.14 508.00 L499.17 508.00 Q502 508 504.00 510.00 L504.00 510.00 Q506 512 506.00 514.83 L506 531" stroke="#fff" stroke-width="1.6" fill="none" stroke-linejoin="round" stroke-linecap="butt"/>
<rect x="489.5" y="505" width="11" height="6" rx="0" fill="#fff" stroke="none" stroke-width="1"/>
<text x="495" y="510.81" font-size="7.8" text-anchor="middle" fill="#1a1a1a">Y</text>
<circle cx="426.6" cy="502.4" r="3.8" fill="#fff" stroke="#333" stroke-width="0.8"/>
<path d="M440.6 500 L440.6 531" stroke="#9a9a9a" stroke-width="3.0" fill="none" stroke-linejoin="round"/>
<rect x="437.6" y="513.5" width="6" height="11" rx="0" fill="#fff" stroke="none" stroke-width="1"/>
<text x="443.408" y="519" font-size="7.8" text-anchor="middle" fill="#1a1a1a" transform="rotate(-90 443.408 519)">S</text>
<path d="M454.6 500 L454.6 531" stroke="#9a9a9a" stroke-width="3.0" fill="none" stroke-linejoin="round"/>
<rect x="451.6" y="513.5" width="6" height="11" rx="0" fill="#fff" stroke="none" stroke-width="1"/>
<text x="457.408" y="519" font-size="7.8" text-anchor="middle" fill="#1a1a1a" transform="rotate(-90 457.408 519)">P</text>
<path d="M469 500 L469 531" stroke="#8e8e8e" stroke-width="3.6" fill="none" stroke-linejoin="round" stroke-linecap="butt"/>
<path d="M469 500 L469 531" stroke="#fff" stroke-width="1.6" fill="none" stroke-linejoin="round" stroke-linecap="butt"/>
<rect x="466" y="513.5" width="6" height="11" rx="0" fill="#fff" stroke="none" stroke-width="1"/>
<text x="471.808" y="519" font-size="7.8" text-anchor="middle" fill="#1a1a1a" transform="rotate(-90 471.808 519)">Y</text>
<path d="M483.4 500 L483.4 531" stroke="#8e8e8e" stroke-width="3.6" fill="none" stroke-linejoin="round" stroke-linecap="butt"/>
<path d="M483.4 500 L483.4 531" stroke="#fff" stroke-width="1.6" fill="none" stroke-linejoin="round" stroke-linecap="butt"/>
<rect x="480.4" y="513.5" width="6" height="11" rx="0" fill="#fff" stroke="none" stroke-width="1"/>
<text x="486.20799999999997" y="519" font-size="7.8" text-anchor="middle" fill="#1a1a1a" transform="rotate(-90 486.20799999999997 519)">W</text>
<path d="M521 500 L521 531" stroke="#575757" stroke-width="3.3" fill="none" stroke-linejoin="round"/>
<rect x="518" y="513.5" width="6" height="11" rx="0" fill="#fff" stroke="none" stroke-width="1"/>
<text x="523.808" y="519" font-size="7.8" text-anchor="middle" fill="#1a1a1a" transform="rotate(-90 523.808 519)">N</text>
<path d="M535.4 500 L535.4 531" stroke="#575757" stroke-width="3.3" fill="none" stroke-linejoin="round"/>
<rect x="532.4" y="513.5" width="6" height="11" rx="0" fill="#fff" stroke="none" stroke-width="1"/>
<text x="538.208" y="519" font-size="7.8" text-anchor="middle" fill="#1a1a1a" transform="rotate(-90 538.208 519)">L</text>
<path d="M550 500 L550 531" stroke="#bababa" stroke-width="2.8" fill="none" stroke-linejoin="round"/>
<rect x="547" y="513.5" width="6" height="11" rx="0" fill="#fff" stroke="none" stroke-width="1"/>
<text x="552.808" y="519" font-size="7.8" text-anchor="middle" fill="#1a1a1a" transform="rotate(-90 552.808 519)">K</text>
<path d="M564.5 500 L564.5 531" stroke="#bababa" stroke-width="2.8" fill="none" stroke-linejoin="round"/>
<rect x="561.5" y="512.0" width="6" height="14" rx="0" fill="#fff" stroke="none" stroke-width="1"/>
<text x="567.164" y="519" font-size="7.4" text-anchor="middle" fill="#1a1a1a" transform="rotate(-90 567.164 519)">Lg</text>
<path d="M592.5 500 L592.5 523" stroke="#111111" stroke-width="3.4" fill="none" stroke-linejoin="round"/>
<rect x="589.5" y="504.0" width="6" height="11" rx="0" fill="#fff" stroke="none" stroke-width="1"/>
<text x="595.308" y="509.5" font-size="7.8" text-anchor="middle" fill="#1a1a1a" transform="rotate(-90 595.308 509.5)">B</text>
<circle cx="592.5" cy="523" r="3.6" fill="#111" stroke="none" stroke-width="0"/>
<path d="M580.5 532 l3.5 -1.8 l0 3.6 Z M604.5 532 l-3.5 -1.8 l0 3.6 Z" fill="#111"/>
<ellipse cx="592.5" cy="532" rx="8.6" ry="4.6" fill="#fff" stroke="#333" stroke-width="0.7"/>
<text x="592.5" y="534.66" font-size="7.4" text-anchor="middle" fill="#222">E6</text>
<path d="M584.5 535.2 Q592.5 539.5 600.5 535.2" stroke="#111" stroke-width="1.0" fill="none"/>
<path d="M587.0 538.8 Q592.5 541 598.0 538.8" stroke="#111" stroke-width="1.2" fill="none"/>
<path d="M590.9 542.3 L594.1 542.3 L592.5 544 Z" fill="#111"/>
<path d="M625.8 500 L625.8 521" stroke="#9a9a9a" stroke-width="3.0" fill="none" stroke-linejoin="round"/>
<rect x="622.8" y="505.0" width="6" height="11" rx="0" fill="#fff" stroke="none" stroke-width="1"/>
<text x="628.608" y="510.5" font-size="7.8" text-anchor="middle" fill="#1a1a1a" transform="rotate(-90 628.608 510.5)">O</text>
<path d="M640 500 L640 521" stroke="#8e8e8e" stroke-width="3.6" fill="none" stroke-linejoin="round" stroke-linecap="butt"/>
<path d="M640 500 L640 521" stroke="#fff" stroke-width="1.6" fill="none" stroke-linejoin="round" stroke-linecap="butt"/>
<rect x="637" y="505.0" width="6" height="11" rx="0" fill="#fff" stroke="none" stroke-width="1"/>
<text x="642.808" y="510.5" font-size="7.8" text-anchor="middle" fill="#1a1a1a" transform="rotate(-90 642.808 510.5)">Y</text>
<path d="M664.3 500 L664.30 624.25 Q664.3 626.3 662.25 626.30 L660.2 626.3" stroke="#575757" stroke-width="3.3" fill="none" stroke-linejoin="round"/>
<rect x="661.3" y="553.3" width="6" height="11" rx="0" fill="#fff" stroke="none" stroke-width="1"/>
<text x="667.108" y="558.8" font-size="7.8" text-anchor="middle" fill="#1a1a1a" transform="rotate(-90 667.108 558.8)">N</text>
<path d="M683.1 500 L683.1 541" stroke="#8e8e8e" stroke-width="3.6" fill="none" stroke-linejoin="round" stroke-linecap="butt"/>
<path d="M683.1 500 L683.1 541" stroke="#fff" stroke-width="1.6" fill="none" stroke-linejoin="round" stroke-linecap="butt"/>
<rect x="680.1" y="515.5" width="6" height="11" rx="0" fill="#fff" stroke="none" stroke-width="1"/>
<text x="685.908" y="521" font-size="7.8" text-anchor="middle" fill="#1a1a1a" transform="rotate(-90 685.908 521)">W</text>
<path d="M697.5 500 L697.5 541" stroke="#9a9a9a" stroke-width="3.0" fill="none" stroke-linejoin="round"/>
<rect x="694.5" y="515.5" width="6" height="11" rx="0" fill="#fff" stroke="none" stroke-width="1"/>
<text x="700.308" y="521" font-size="7.8" text-anchor="middle" fill="#1a1a1a" transform="rotate(-90 700.308 521)">S</text>
<rect x="418.5" y="539.4" width="76.69999999999999" height="37.5" rx="5" fill="#a9a9a9" filter="url(#blur)"/>
<rect x="416.3" y="537" width="76.69999999999999" height="37.5" rx="5" fill="#e4e4e4" stroke="#8a8a8a" stroke-width="0.8"/>
<path d="M426.6 543 L426.6 568 L483.4 568" stroke="#1a1a1a" stroke-width="1.0" fill="none"/>
<path d="M440.6 543 C440.6 547 445.6 546 445.6 552 L445.6 560 C445.6 565 440.6 564 440.6 568" stroke="#111" stroke-width="1.0" fill="none"/>
<ellipse cx="441.1" cy="551.5" rx="4.2" ry="1.9" fill="none" stroke="#111" stroke-width="1.0"/>
<ellipse cx="441.1" cy="555.5" rx="4.2" ry="1.9" fill="none" stroke="#111" stroke-width="1.0"/>
<ellipse cx="441.1" cy="559.5" rx="4.2" ry="1.9" fill="none" stroke="#111" stroke-width="1.0"/>
<path d="M454.6 543 C454.6 547 459.6 546 459.6 552 L459.6 560 C459.6 565 454.6 564 454.6 568" stroke="#111" stroke-width="1.0" fill="none"/>
<ellipse cx="455.1" cy="551.5" rx="4.2" ry="1.9" fill="none" stroke="#111" stroke-width="1.0"/>
<ellipse cx="455.1" cy="555.5" rx="4.2" ry="1.9" fill="none" stroke="#111" stroke-width="1.0"/>
<ellipse cx="455.1" cy="559.5" rx="4.2" ry="1.9" fill="none" stroke="#111" stroke-width="1.0"/>
<path d="M469 543 C469 547 474 546 474 552 L474 560 C474 565 469 564 469 568" stroke="#111" stroke-width="1.0" fill="none"/>
<ellipse cx="469.5" cy="551.5" rx="4.2" ry="1.9" fill="none" stroke="#111" stroke-width="1.0"/>
<ellipse cx="469.5" cy="555.5" rx="4.2" ry="1.9" fill="none" stroke="#111" stroke-width="1.0"/>
<ellipse cx="469.5" cy="559.5" rx="4.2" ry="1.9" fill="none" stroke="#111" stroke-width="1.0"/>
<path d="M483.4 543 C483.4 547 488.4 546 488.4 552 L488.4 560 C488.4 565 483.4 564 483.4 568" stroke="#111" stroke-width="1.0" fill="none"/>
<ellipse cx="483.9" cy="551.5" rx="4.2" ry="1.9" fill="none" stroke="#111" stroke-width="1.0"/>
<ellipse cx="483.9" cy="555.5" rx="4.2" ry="1.9" fill="none" stroke="#111" stroke-width="1.0"/>
<ellipse cx="483.9" cy="559.5" rx="4.2" ry="1.9" fill="none" stroke="#111" stroke-width="1.0"/>
<circle cx="440.6" cy="568" r="1.8" fill="#111" stroke="none" stroke-width="0"/>
<circle cx="454.6" cy="568" r="1.8" fill="#111" stroke="none" stroke-width="0"/>
<circle cx="469" cy="568" r="1.8" fill="#111" stroke="none" stroke-width="0"/>
<rect x="447.58" y="578.1" width="13.83" height="9.8" rx="0" fill="#ababab" stroke="none" stroke-width="1"/>
<text x="454.5" y="586.31" font-size="9.2" text-anchor="middle" font-weight="bold" font-style="italic" fill="#111">90</text>
<circle cx="426.6" cy="537" r="5.9" fill="#fff" stroke="#444" stroke-width="0.85"/>
<text x="426.6" y="539.88" font-size="8.0" text-anchor="middle" fill="#222">3</text>
<circle cx="440.6" cy="537" r="5.9" fill="#fff" stroke="#444" stroke-width="0.85"/>
<text x="440.6" y="539.88" font-size="8.0" text-anchor="middle" fill="#222">5</text>
<circle cx="454.6" cy="537" r="5.9" fill="#fff" stroke="#444" stroke-width="0.85"/>
<text x="454.6" y="539.88" font-size="8.0" text-anchor="middle" fill="#222">2</text>
<circle cx="469" cy="537" r="5.9" fill="#fff" stroke="#444" stroke-width="0.85"/>
<text x="469" y="539.88" font-size="8.0" text-anchor="middle" fill="#222">1</text>
<circle cx="483.4" cy="537" r="5.9" fill="#fff" stroke="#444" stroke-width="0.85"/>
<text x="483.4" y="539.88" font-size="8.0" text-anchor="middle" fill="#222">6</text>
<rect x="500.2" y="539.4" width="74.5" height="37.5" rx="5" fill="#a9a9a9" filter="url(#blur)"/>
<rect x="498" y="537" width="74.5" height="37.5" rx="5" fill="#e4e4e4" stroke="#8a8a8a" stroke-width="0.8"/>
<path d="M506 543 L506 568 L564.5 568" stroke="#1a1a1a" stroke-width="1.0" fill="none"/>
<path d="M521 543 C521 547 526 546 526 552 L526 560 C526 565 521 564 521 568" stroke="#111" stroke-width="1.0" fill="none"/>
<ellipse cx="521.5" cy="551.5" rx="4.2" ry="1.9" fill="none" stroke="#111" stroke-width="1.0"/>
<ellipse cx="521.5" cy="555.5" rx="4.2" ry="1.9" fill="none" stroke="#111" stroke-width="1.0"/>
<ellipse cx="521.5" cy="559.5" rx="4.2" ry="1.9" fill="none" stroke="#111" stroke-width="1.0"/>
<path d="M535.4 543 C535.4 547 540.4 546 540.4 552 L540.4 560 C540.4 565 535.4 564 535.4 568" stroke="#111" stroke-width="1.0" fill="none"/>
<ellipse cx="535.9" cy="551.5" rx="4.2" ry="1.9" fill="none" stroke="#111" stroke-width="1.0"/>
<ellipse cx="535.9" cy="555.5" rx="4.2" ry="1.9" fill="none" stroke="#111" stroke-width="1.0"/>
<ellipse cx="535.9" cy="559.5" rx="4.2" ry="1.9" fill="none" stroke="#111" stroke-width="1.0"/>
<path d="M550 543 C550 547 555 546 555 552 L555 560 C555 565 550 564 550 568" stroke="#111" stroke-width="1.0" fill="none"/>
<ellipse cx="550.5" cy="551.5" rx="4.2" ry="1.9" fill="none" stroke="#111" stroke-width="1.0"/>
<ellipse cx="550.5" cy="555.5" rx="4.2" ry="1.9" fill="none" stroke="#111" stroke-width="1.0"/>
<ellipse cx="550.5" cy="559.5" rx="4.2" ry="1.9" fill="none" stroke="#111" stroke-width="1.0"/>
<path d="M564.5 543 C564.5 547 569.5 546 569.5 552 L569.5 560 C569.5 565 564.5 564 564.5 568" stroke="#111" stroke-width="1.0" fill="none"/>
<ellipse cx="565.0" cy="551.5" rx="4.2" ry="1.9" fill="none" stroke="#111" stroke-width="1.0"/>
<ellipse cx="565.0" cy="555.5" rx="4.2" ry="1.9" fill="none" stroke="#111" stroke-width="1.0"/>
<ellipse cx="565.0" cy="559.5" rx="4.2" ry="1.9" fill="none" stroke="#111" stroke-width="1.0"/>
<circle cx="521" cy="568" r="1.8" fill="#111" stroke="none" stroke-width="0"/>
<circle cx="535.4" cy="568" r="1.8" fill="#111" stroke="none" stroke-width="0"/>
<circle cx="550" cy="568" r="1.8" fill="#111" stroke="none" stroke-width="0"/>
<rect x="528.08" y="578.1" width="13.83" height="9.8" rx="0" fill="#ababab" stroke="none" stroke-width="1"/>
<text x="535" y="586.31" font-size="9.2" text-anchor="middle" font-weight="bold" font-style="italic" fill="#111">91</text>
<circle cx="506" cy="537" r="5.9" fill="#fff" stroke="#444" stroke-width="0.85"/>
<text x="506" y="539.88" font-size="8.0" text-anchor="middle" fill="#222">3</text>
<circle cx="521" cy="537" r="5.9" fill="#fff" stroke="#444" stroke-width="0.85"/>
<text x="521" y="539.88" font-size="8.0" text-anchor="middle" fill="#222">5</text>
<circle cx="535.4" cy="537" r="5.9" fill="#fff" stroke="#444" stroke-width="0.85"/>
<text x="535.4" y="539.88" font-size="8.0" text-anchor="middle" fill="#222">2</text>
<circle cx="550" cy="537" r="5.9" fill="#fff" stroke="#444" stroke-width="0.85"/>
<text x="550" y="539.88" font-size="8.0" text-anchor="middle" fill="#222">1</text>
<circle cx="564.5" cy="537" r="5.9" fill="#fff" stroke="#444" stroke-width="0.85"/>
<text x="564.5" y="539.88" font-size="8.0" text-anchor="middle" fill="#222">6</text>
<rect x="616.0" y="529.4" width="36.200000000000045" height="52" rx="5" fill="#a9a9a9" filter="url(#blur)"/>
<rect x="613.8" y="527" width="36.200000000000045" height="52" rx="5" fill="#e4e4e4" stroke="#888" stroke-width="0.8" stroke-dasharray="0.9 1.1"/>
<rect x="625.58" y="557.6" width="13.83" height="9.8" rx="0" fill="#ababab" stroke="none" stroke-width="1"/>
<text x="632.5" y="565.81" font-size="9.2" text-anchor="middle" font-weight="bold" font-style="italic" fill="#111">21</text>
<path d="M613.8 550 L618 553 L613 555" stroke="#999" stroke-width="0.6" fill="none"/>
<rect x="675.5" y="549.4" width="48.30000000000007" height="18.600000000000023" rx="8" fill="#a9a9a9" filter="url(#blur)"/>
<rect x="673.3" y="547" width="48.30000000000007" height="18.600000000000023" rx="8" fill="#e4e4e4" stroke="#8a8a8a" stroke-width="0.8"/>
<rect x="690.48" y="566.9" width="13.83" height="9.8" rx="0" fill="#ababab" stroke="none" stroke-width="1"/>
<text x="697.4" y="575.11" font-size="9.2" text-anchor="middle" font-weight="bold" font-style="italic" fill="#111">97</text>
<path d="M683.1 571.5 L683.1 598" stroke="#111111" stroke-width="3.4" fill="none" stroke-linejoin="round"/>
<rect x="680.1" y="578.3" width="6" height="11" rx="0" fill="#fff" stroke="none" stroke-width="1"/>
<text x="685.908" y="583.8" font-size="7.8" text-anchor="middle" fill="#1a1a1a" transform="rotate(-90 685.908 583.8)">B</text>
<circle cx="683.3" cy="598" r="3.6" fill="#111" stroke="none" stroke-width="0"/>
<path d="M671.3 607 l3.5 -1.8 l0 3.6 Z M695.3 607 l-3.5 -1.8 l0 3.6 Z" fill="#111"/>
<ellipse cx="683.3" cy="607" rx="8.6" ry="4.6" fill="#fff" stroke="#333" stroke-width="0.7"/>
<text x="683.3" y="609.66" font-size="7.4" text-anchor="middle" fill="#222">E6</text>
<path d="M675.3 610.2 Q683.3 614.5 691.3 610.2" stroke="#111" stroke-width="1.0" fill="none"/>
<path d="M677.8 613.8 Q683.3 616 688.8 613.8" stroke="#111" stroke-width="1.2" fill="none"/>
<path d="M681.6999999999999 617.3 L684.9 617.3 L683.3 619 Z" fill="#111"/>
<path d="M711.2 571.5 L711.2 592.9" stroke="#575757" stroke-width="3.3" fill="none" stroke-linejoin="round"/>
<rect x="708.2" y="578.3" width="6" height="11" rx="0" fill="#fff" stroke="none" stroke-width="1"/>
<text x="714.008" y="583.8" font-size="7.8" text-anchor="middle" fill="#1a1a1a" transform="rotate(-90 714.008 583.8)">R</text>
<rect x="704.7" y="601.1999999999999" width="38.0" height="37.5" rx="5" fill="#a9a9a9" filter="url(#blur)"/>
<rect x="702.5" y="598.8" width="38.0" height="37.5" rx="5" fill="#e4e4e4" stroke="#8a8a8a" stroke-width="0.8"/>
<circle cx="721.3" cy="617.5" r="13.8" fill="#fff" stroke="#222" stroke-width="1.0"/>
<text x="721.3" y="623.6" font-size="17" text-anchor="middle" fill="#111">M</text>
<rect x="686.08" y="625.6" width="13.83" height="9.8" rx="0" fill="#ababab" stroke="none" stroke-width="1"/>
<text x="693" y="633.81" font-size="9.2" text-anchor="middle" font-weight="bold" font-style="italic" fill="#111">85</text>
<rect x="596.3" y="617.5" width="58.7" height="18.8" rx="8" fill="#fff" stroke="#888" stroke-width="0.8"/>
<text x="623.5" y="625.2" font-size="8.3" text-anchor="middle" fill="#222">Instruments</text>
<text x="623.5" y="633.6" font-size="8.3" text-anchor="middle" fill="#222">diagram 11</text>
<path d="M626.3 585.2 L626.3 591 C626.3 598 612 600 606 606 C602 610 598 612 590 612" stroke="#575757" stroke-width="3.3" fill="none" stroke-linejoin="round"/>
<path d="M640 585.2 L640 606 Q640 610.5 636 610.5 L614 610.5 C606 610.5 604 596 596 596 L590 596" stroke="#8e8e8e" stroke-width="3.6" fill="none" stroke-linejoin="round" stroke-linecap="butt"/>
<path d="M640 585.2 L640 606 Q640 610.5 636 610.5 L614 610.5 C606 610.5 604 596 596 596 L590 596" stroke="#fff" stroke-width="1.6" fill="none" stroke-linejoin="round" stroke-linecap="butt"/>
<path d="M626.3 585.2 L626.3 591 C626.3 598 612 600 606 606 C602 610 598 612 590 612" stroke="#575757" stroke-width="3.3" fill="none" stroke-linejoin="round"/>
<rect x="612.0" y="593.3" width="11" height="6" rx="0" fill="#fff" stroke="none" stroke-width="1"/>
<text x="617.5" y="599.11" font-size="7.8" text-anchor="middle" fill="#1a1a1a">R</text>
<rect x="612.0" y="608" width="11" height="6" rx="0" fill="#fff" stroke="none" stroke-width="1"/>
<text x="617.5" y="613.81" font-size="7.8" text-anchor="middle" fill="#1a1a1a">W</text>
<path d="M590 591.3 Q585.5 591.3 586 596 L586.5 601 Q586.5 603.2 583.5 603.2 Q586.5 603.2 586.5 605.5 L586 610.5 Q585.5 615 590 615" stroke="#333" stroke-width="0.9" fill="none"/>
<path d="M532 602.6 L535.2 600.2 L535.2 601.6 L540 601.6 L540 604.6 L535.2 604.6 L535.2 606.0 Z" fill="#111"/>
<text x="541" y="605.2" font-size="8.2" text-anchor="start" fill="#222">CAN Bus</text>
<text x="420.5" y="602.8" font-size="10.25" text-anchor="middle" fill="#222">•</text>
<text x="425.5" y="602.5" font-size="8.2" text-anchor="start" fill="#222">Intelligent power distribution</text>
<text x="425.5" y="612.5" font-size="8.2" text-anchor="start" fill="#222">module (diagram 2)</text>
<text x="420.5" y="622.3" font-size="10.25" text-anchor="middle" fill="#222">•</text>
<text x="425.5" y="622" font-size="8.2" text-anchor="start" fill="#222">Engine control module</text>
<text x="420.5" y="631.5999999999999" font-size="10.25" text-anchor="middle" fill="#222">•</text>
<text x="425.5" y="631.3" font-size="8.2" text-anchor="start" fill="#222">Instruments (diagram 11)</text>
<circle cx="474" cy="414" r="5.9" fill="#fff" stroke="#444" stroke-width="0.85"/>
<text x="474" y="416.88" font-size="8.0" text-anchor="middle" fill="#222">2</text>
<circle cx="495.4" cy="414" r="5.9" fill="#fff" stroke="#444" stroke-width="0.85"/>
<text x="495.4" y="416.88" font-size="8.0" text-anchor="middle" fill="#222">6</text>
<circle cx="521.3" cy="413.5" r="5.9" fill="#fff" stroke="#444" stroke-width="0.85"/>
<text x="521.3" y="416.38" font-size="8.0" text-anchor="middle" fill="#222">1</text>
<circle cx="541.3" cy="413.5" r="5.9" fill="#fff" stroke="#444" stroke-width="0.85"/>
<text x="541.3" y="416.38" font-size="8.0" text-anchor="middle" fill="#222">2</text>
<circle cx="569.5" cy="413.8" r="5.9" fill="#fff" stroke="#444" stroke-width="0.85"/>
<text x="569.5" y="416.68" font-size="8.0" text-anchor="middle" fill="#222">1</text>
<circle cx="588" cy="413.8" r="5.9" fill="#fff" stroke="#444" stroke-width="0.85"/>
<text x="588" y="416.68" font-size="8.0" text-anchor="middle" fill="#222">2</text>
<circle cx="616.3" cy="414" r="5.9" fill="#fff" stroke="#444" stroke-width="0.85"/>
<text x="616.3" y="416.88" font-size="8.0" text-anchor="middle" fill="#222">1</text>
<circle cx="635" cy="414" r="5.9" fill="#fff" stroke="#444" stroke-width="0.85"/>
<text x="635" y="416.88" font-size="8.0" text-anchor="middle" fill="#222">3</text>
<circle cx="664.5" cy="413.5" r="5.9" fill="#fff" stroke="#444" stroke-width="0.85"/>
<text x="664.5" y="416.38" font-size="8.0" text-anchor="middle" fill="#222">1</text>
<circle cx="683.3" cy="413.5" r="5.9" fill="#fff" stroke="#444" stroke-width="0.85"/>
<text x="683.3" y="416.38" font-size="8.0" text-anchor="middle" fill="#222">2</text>
<circle cx="440.6" cy="460" r="5.9" fill="#fff" stroke="#444" stroke-width="0.85"/>
<text x="440.6" y="462.88" font-size="8.0" text-anchor="middle" fill="#222">2</text>
<circle cx="455" cy="460" r="5.9" fill="#fff" stroke="#444" stroke-width="0.85"/>
<text x="455" y="462.88" font-size="8.0" text-anchor="middle" fill="#222">1</text>
<circle cx="474" cy="460" r="5.9" fill="#fff" stroke="#444" stroke-width="0.85"/>
<text x="474" y="462.63" font-size="7.3" text-anchor="middle" fill="#222" letter-spacing="-0.35">19</text>
<circle cx="495.4" cy="460" r="5.9" fill="#fff" stroke="#444" stroke-width="0.85"/>
<text x="495.4" y="462.63" font-size="7.3" text-anchor="middle" fill="#222" letter-spacing="-0.35">20</text>
<circle cx="521.3" cy="460" r="5.9" fill="#fff" stroke="#444" stroke-width="0.85"/>
<text x="521.3" y="462.88" font-size="8.0" text-anchor="middle" fill="#222">4</text>
<circle cx="569.5" cy="460" r="5.9" fill="#fff" stroke="#444" stroke-width="0.85"/>
<text x="569.5" y="462.88" font-size="8.0" text-anchor="middle" fill="#222">5</text>
<circle cx="616.3" cy="460" r="5.9" fill="#fff" stroke="#444" stroke-width="0.85"/>
<text x="616.3" y="462.88" font-size="8.0" text-anchor="middle" fill="#222">7</text>
<circle cx="664.5" cy="460.2" r="5.9" fill="#fff" stroke="#444" stroke-width="0.85"/>
<text x="664.5" y="463.08" font-size="8.0" text-anchor="middle" fill="#222">3</text>
<circle cx="683.3" cy="460.2" r="5.9" fill="#fff" stroke="#444" stroke-width="0.85"/>
<text x="683.3" y="463.08" font-size="8.0" text-anchor="middle" fill="#222">6</text>
<circle cx="702" cy="460.2" r="5.9" fill="#fff" stroke="#444" stroke-width="0.85"/>
<text x="702" y="463.08" font-size="8.0" text-anchor="middle" fill="#222">8</text>
<circle cx="440.6" cy="494" r="5.9" fill="#fff" stroke="#444" stroke-width="0.85"/>
<text x="440.6" y="496.63" font-size="7.3" text-anchor="middle" fill="#222" letter-spacing="-0.35">32</text>
<circle cx="454.6" cy="494" r="5.9" fill="#fff" stroke="#444" stroke-width="0.85"/>
<text x="454.6" y="496.63" font-size="7.3" text-anchor="middle" fill="#222" letter-spacing="-0.35">31</text>
<circle cx="469" cy="494" r="5.9" fill="#fff" stroke="#444" stroke-width="0.85"/>
<text x="469" y="496.63" font-size="7.3" text-anchor="middle" fill="#222" letter-spacing="-0.35">34</text>
<circle cx="483.4" cy="494" r="5.9" fill="#fff" stroke="#444" stroke-width="0.85"/>
<text x="483.4" y="496.63" font-size="7.3" text-anchor="middle" fill="#222" letter-spacing="-0.35">30</text>
<circle cx="521" cy="494" r="5.9" fill="#fff" stroke="#444" stroke-width="0.85"/>
<text x="521" y="496.63" font-size="7.3" text-anchor="middle" fill="#222" letter-spacing="-0.35">27</text>
<circle cx="535.4" cy="494" r="5.9" fill="#fff" stroke="#444" stroke-width="0.85"/>
<text x="535.4" y="496.63" font-size="7.3" text-anchor="middle" fill="#222" letter-spacing="-0.35">26</text>
<circle cx="550" cy="494" r="5.9" fill="#fff" stroke="#444" stroke-width="0.85"/>
<text x="550" y="496.63" font-size="7.3" text-anchor="middle" fill="#222" letter-spacing="-0.35">29</text>
<circle cx="564.5" cy="494" r="5.9" fill="#fff" stroke="#444" stroke-width="0.85"/>
<text x="564.5" y="496.63" font-size="7.3" text-anchor="middle" fill="#222" letter-spacing="-0.35">25</text>
<circle cx="592.5" cy="494" r="5.9" fill="#fff" stroke="#444" stroke-width="0.85"/>
<text x="592.5" y="496.63" font-size="7.3" text-anchor="middle" fill="#222" letter-spacing="-0.35">14</text>
<circle cx="625.8" cy="494" r="5.9" fill="#fff" stroke="#444" stroke-width="0.85"/>
<text x="625.8" y="496.63" font-size="7.3" text-anchor="middle" fill="#222" letter-spacing="-0.35">15</text>
<circle cx="640" cy="494" r="5.9" fill="#fff" stroke="#444" stroke-width="0.85"/>
<text x="640" y="496.63" font-size="7.3" text-anchor="middle" fill="#222" letter-spacing="-0.35">16</text>
<circle cx="664.3" cy="494" r="5.9" fill="#fff" stroke="#444" stroke-width="0.85"/>
<text x="664.3" y="496.63" font-size="7.3" text-anchor="middle" fill="#222" letter-spacing="-0.35">13</text>
<circle cx="683.1" cy="494" r="5.9" fill="#fff" stroke="#444" stroke-width="0.85"/>
<text x="683.1" y="496.88" font-size="8.0" text-anchor="middle" fill="#222">9</text>
<circle cx="697.5" cy="494" r="5.9" fill="#fff" stroke="#444" stroke-width="0.85"/>
<text x="697.5" y="496.63" font-size="7.3" text-anchor="middle" fill="#222" letter-spacing="-0.35">10</text>
<circle cx="625.8" cy="527" r="5.9" fill="#fff" stroke="#444" stroke-width="0.85"/>
<text x="625.8" y="529.63" font-size="7.3" text-anchor="middle" fill="#222" letter-spacing="-0.35">50</text>
<circle cx="640" cy="527" r="5.9" fill="#fff" stroke="#444" stroke-width="0.85"/>
<text x="640" y="529.63" font-size="7.3" text-anchor="middle" fill="#222" letter-spacing="-0.35">61</text>
<circle cx="626.3" cy="579.3" r="5.9" fill="#fff" stroke="#444" stroke-width="0.85"/>
<text x="626.3" y="581.93" font-size="7.3" text-anchor="middle" fill="#222" letter-spacing="-0.35">19</text>
<circle cx="640" cy="579.3" r="5.9" fill="#fff" stroke="#444" stroke-width="0.85"/>
<text x="640" y="581.93" font-size="7.3" text-anchor="middle" fill="#222" letter-spacing="-0.35">39</text>
<circle cx="683.1" cy="547" r="5.9" fill="#fff" stroke="#444" stroke-width="0.85"/>
<text x="683.1" y="549.88" font-size="8.0" text-anchor="middle" fill="#222">4</text>
<circle cx="697.1" cy="547" r="5.9" fill="#fff" stroke="#444" stroke-width="0.85"/>
<text x="697.1" y="549.88" font-size="8.0" text-anchor="middle" fill="#222">3</text>
<circle cx="711.2" cy="547" r="5.9" fill="#fff" stroke="#444" stroke-width="0.85"/>
<text x="711.2" y="549.88" font-size="8.0" text-anchor="middle" fill="#222">1</text>
<circle cx="683.1" cy="565.6" r="5.9" fill="#fff" stroke="#444" stroke-width="0.85"/>
<text x="683.1" y="568.48" font-size="8.0" text-anchor="middle" fill="#222">2</text>
<circle cx="711.2" cy="565.6" r="5.9" fill="#fff" stroke="#444" stroke-width="0.85"/>
<text x="711.2" y="568.48" font-size="8.0" text-anchor="middle" fill="#222">5</text>
<circle cx="711.2" cy="598.8" r="5.9" fill="#fff" stroke="#444" stroke-width="0.85"/>
<text x="711.2" y="601.68" font-size="8.0" text-anchor="middle" fill="#222">1</text>
<circle cx="730.3" cy="598.8" r="5.9" fill="#fff" stroke="#444" stroke-width="0.85"/>
<text x="730.3" y="601.68" font-size="8.0" text-anchor="middle" fill="#222">2</text>
<circle cx="654.3" cy="626.3" r="5.9" fill="#fff" stroke="#444" stroke-width="0.85"/>
<text x="654.3" y="628.93" font-size="7.3" text-anchor="middle" fill="#222" letter-spacing="-0.35">35</text>
<circle cx="440.6" cy="414" r="3.8" fill="#fff" stroke="#333" stroke-width="0.8"/>
<circle cx="455" cy="414" r="3.8" fill="#fff" stroke="#333" stroke-width="0.8"/>
<rect x="61.1" y="667.1" width="153.0" height="15.0" rx="4" fill="#bdbdbd" filter="url(#blur2)"/>
<rect x="59.5" y="665.5" width="153.0" height="15.0" rx="4" fill="#fff" stroke="#333" stroke-width="0.9"/>
<text x="76" y="675.6" font-size="10.7" text-anchor="start" font-weight="bold" font-style="italic" fill="#111">Instrument illumination</text>
<text x="665.5" y="666.3" font-size="7.0" text-anchor="start" fill="#333">ƒ with ESP</text>
<text x="665.5" y="674.2" font-size="7.0" text-anchor="start" fill="#333"># without ESP</text>
<text x="665.5" y="682" font-size="7.0" text-anchor="start" fill="#333">* with air conditioning</text>
<text x="665.5" y="689.8" font-size="7.0" text-anchor="start" fill="#333">Δ without air conditioning</text>
<rect x="71.3" y="689.5" width="61.7" height="41.799999999999955" rx="5" fill="#fff" stroke="#999" stroke-width="0.8"/>
<text x="102" y="696.3" font-size="8.3" text-anchor="middle" fill="#222">Body control</text>
<text x="102" y="704.3" font-size="8.3" text-anchor="middle" fill="#222">module</text>
<text x="102" y="712.5" font-size="8.3" text-anchor="middle" fill="#222">(see diagram 4,</text>
<text x="102" y="720.5" font-size="8.3" text-anchor="middle" fill="#222">Headlamps)</text>
<path d="M102 737.6 L102 772.4" stroke="#575757" stroke-width="3.3" fill="none" stroke-linejoin="round"/>
<rect x="99" y="749.0" width="6" height="11" rx="0" fill="#fff" stroke="none" stroke-width="1"/>
<text x="104.80799999999999" y="754.5" font-size="7.8" text-anchor="middle" fill="#1a1a1a" transform="rotate(-90 104.80799999999999 754.5)">R</text>
<path d="M105.8 776.3 L144.00 776.30 Q150 776.3 150.00 782.30 L150 811" stroke="#575757" stroke-width="3.3" fill="none" stroke-linejoin="round"/>
<rect x="117.5" y="773.3" width="11" height="6" rx="0" fill="#fff" stroke="none" stroke-width="1"/>
<text x="123" y="779.11" font-size="7.8" text-anchor="middle" fill="#1a1a1a">R</text>
<path d="M102 780 L102 811" stroke="#575757" stroke-width="3.3" fill="none" stroke-linejoin="round"/>
<rect x="99" y="792.1" width="6" height="11" rx="0" fill="#fff" stroke="none" stroke-width="1"/>
<text x="104.80799999999999" y="797.6" font-size="7.8" text-anchor="middle" fill="#1a1a1a" transform="rotate(-90 104.80799999999999 797.6)">R</text>
<circle cx="102" cy="776.3" r="3.8" fill="#fff" stroke="#333" stroke-width="0.8"/>
<rect x="80.60000000000001" y="820.0" width="42.599999999999994" height="68.39999999999998" rx="5" fill="#a9a9a9" filter="url(#blur)"/>
<rect x="78.4" y="817.6" width="42.599999999999994" height="68.39999999999998" rx="5" fill="#e4e4e4" stroke="#888" stroke-width="0.8" stroke-dasharray="0.9 1.1"/>
<rect x="80.88" y="821.5" width="13.83" height="9.8" rx="0" fill="#ababab" stroke="none" stroke-width="1"/>
<text x="87.8" y="829.71" font-size="9.2" text-anchor="middle" font-weight="bold" font-style="italic" fill="#111">80</text>
<rect x="128.2" y="820.0" width="76.4" height="68.39999999999998" rx="5" fill="#a9a9a9" filter="url(#blur)"/>
<rect x="126" y="817.6" width="76.4" height="68.39999999999998" rx="5" fill="#e4e4e4" stroke="#888" stroke-width="0.8" stroke-dasharray="0.9 1.1"/>
<rect x="129.28" y="821.5" width="13.83" height="9.8" rx="0" fill="#ababab" stroke="none" stroke-width="1"/>
<text x="136.2" y="829.71" font-size="9.2" text-anchor="middle" font-weight="bold" font-style="italic" fill="#111">79</text>
<path d="M102 835 L105.8 836.33 L98.2 839.00 L105.8 841.67 L98.2 844.33 L105.8 847.00 L98.2 849.67 L102 851" stroke="#111" stroke-width="1.6" fill="none" stroke-linejoin="miter"/>
<circle cx="102" cy="865.6" r="9.4" fill="#fff" stroke="#444" stroke-width="0.7"/>
<line x1="102" y1="856.2" x2="102" y2="875.0" stroke="#222" stroke-width="1.1"/>
<path d="M98.4 861.0 L105.6 861.0 L102 865.8000000000001 Z" fill="#111"/>
<line x1="98" y1="867.0" x2="106" y2="867.0" stroke="#111" stroke-width="1.1"/>
<path d="M93.1 856.2 L89.6 849.2 M95.1 853.2 L91.1 847.2" stroke="#333" stroke-width="0.6" fill="none"/>
<path d="M89.6 849.2 l-0.4 3 l2.2 -1 Z M91.1 847.2 l-0.4 3 l2.2 -1 Z" fill="#222"/>
<line x1="102" y1="851" x2="102" y2="856.2" stroke="#1a1a1a" stroke-width="1.1"/>
<path d="M150 835 L153.8 836.33 L146.2 839.00 L153.8 841.67 L146.2 844.33 L153.8 847.00 L146.2 849.67 L150 851" stroke="#111" stroke-width="1.6" fill="none" stroke-linejoin="miter"/>
<circle cx="150" cy="865.6" r="9.4" fill="#fff" stroke="#444" stroke-width="0.7"/>
<line x1="150" y1="856.2" x2="150" y2="875.0" stroke="#222" stroke-width="1.1"/>
<path d="M146.4 861.0 L153.6 861.0 L150 865.8000000000001 Z" fill="#111"/>
<line x1="146" y1="867.0" x2="154" y2="867.0" stroke="#111" stroke-width="1.1"/>
<path d="M141.1 856.2 L137.6 849.2 M143.1 853.2 L139.1 847.2" stroke="#333" stroke-width="0.6" fill="none"/>
<path d="M137.6 849.2 l-0.4 3 l2.2 -1 Z M139.1 847.2 l-0.4 3 l2.2 -1 Z" fill="#222"/>
<line x1="150" y1="851" x2="150" y2="856.2" stroke="#1a1a1a" stroke-width="1.1"/>
<path d="M187 835 L190.8 836.33 L183.2 839.00 L190.8 841.67 L183.2 844.33 L190.8 847.00 L183.2 849.67 L187 851" stroke="#111" stroke-width="1.6" fill="none" stroke-linejoin="miter"/>
<circle cx="187" cy="865.6" r="9.4" fill="#fff" stroke="#444" stroke-width="0.7"/>
<line x1="187" y1="856.2" x2="187" y2="875.0" stroke="#222" stroke-width="1.1"/>
<path d="M183.4 861.0 L190.6 861.0 L187 865.8000000000001 Z" fill="#111"/>
<line x1="183" y1="867.0" x2="191" y2="867.0" stroke="#111" stroke-width="1.1"/>
<path d="M178.1 856.2 L174.6 849.2 M180.1 853.2 L176.1 847.2" stroke="#333" stroke-width="0.6" fill="none"/>
<path d="M174.6 849.2 l-0.4 3 l2.2 -1 Z M176.1 847.2 l-0.4 3 l2.2 -1 Z" fill="#222"/>
<line x1="187" y1="851" x2="187" y2="856.2" stroke="#1a1a1a" stroke-width="1.1"/>
<path d="M102 823 L102 835 M102 875 L102 881" stroke="#1a1a1a" stroke-width="1.1" fill="none"/>
<path d="M150 823 L150 835 M150 826.4 L187 826.4 L187 835 M150 875 L150 881 M187 875 L187 878 L150 878" stroke="#1a1a1a" stroke-width="1.1" fill="none"/>
<circle cx="150" cy="826.4" r="1.8" fill="#111" stroke="none" stroke-width="0"/>
<circle cx="150" cy="878" r="1.8" fill="#111" stroke="none" stroke-width="0"/>
<rect x="81.44" y="863.1" width="8.72" height="9.8" rx="0" fill="#ababab" stroke="none" stroke-width="1"/>
<text x="85.8" y="871.31" font-size="9.2" text-anchor="middle" font-weight="bold" font-style="italic" fill="#111">a</text>
<rect x="129.84" y="863.1" width="8.72" height="9.8" rx="0" fill="#ababab" stroke="none" stroke-width="1"/>
<text x="134.2" y="871.31" font-size="9.2" text-anchor="middle" font-weight="bold" font-style="italic" fill="#111">a</text>
<rect x="166.59" y="863.1" width="9.22" height="9.8" rx="0" fill="#ababab" stroke="none" stroke-width="1"/>
<text x="171.2" y="871.31" font-size="9.2" text-anchor="middle" font-weight="bold" font-style="italic" fill="#111">b</text>
<path d="M102 893 L102 926" stroke="#111111" stroke-width="3.4" fill="none" stroke-linejoin="round"/>
<rect x="99" y="900.1" width="6" height="11" rx="0" fill="#fff" stroke="none" stroke-width="1"/>
<text x="104.80799999999999" y="905.6" font-size="7.8" text-anchor="middle" fill="#1a1a1a" transform="rotate(-90 104.80799999999999 905.6)">B</text>
<path d="M150 893 L150.00 915.40 Q150 922.4 143.00 922.40 L102 922.4" stroke="#111111" stroke-width="3.4" fill="none" stroke-linejoin="round"/>
<rect x="116.5" y="919.4" width="11" height="6" rx="0" fill="#fff" stroke="none" stroke-width="1"/>
<text x="122" y="925.21" font-size="7.8" text-anchor="middle" fill="#1a1a1a">B</text>
<circle cx="102" cy="926" r="3.8" fill="#111" stroke="none" stroke-width="0"/>
<path d="M90 935.2 l3.5 -1.8 l0 3.6 Z M114 935.2 l-3.5 -1.8 l0 3.6 Z" fill="#111"/>
<ellipse cx="102" cy="935.2" rx="8.6" ry="4.6" fill="#fff" stroke="#333" stroke-width="0.7"/>
<text x="102" y="937.86" font-size="7.4" text-anchor="middle" fill="#222">E6</text>
<path d="M94 938.4000000000001 Q102 942.7 110 938.4000000000001" stroke="#111" stroke-width="1.0" fill="none"/>
<path d="M96.5 942.0 Q102 944.2 107.5 942.0" stroke="#111" stroke-width="1.2" fill="none"/>
<path d="M100.4 945.5 L103.6 945.5 L102 947.2 Z" fill="#111"/>
<path d="M206.3 705.5 L223.0 705.5 L223.0 695.5 L214.65 689.5 L206.3 695.5 Z" fill="#fff" stroke="#111" stroke-width="2.0" stroke-linejoin="miter"/>
<text x="214.65" y="703.01" font-size="7.8" text-anchor="middle" fill="#222">G8</text>
<path d="M214.5 705.5 L214.5 904.6" stroke="#bababa" stroke-width="2.8" fill="none" stroke-linejoin="round"/>
<rect x="211.5" y="790.5" width="6" height="14" rx="0" fill="#fff" stroke="none" stroke-width="1"/>
<text x="217.164" y="797.5" font-size="7.4" text-anchor="middle" fill="#1a1a1a" transform="rotate(-90 217.164 797.5)">Lg</text>
<rect x="181.3" y="910.5" width="66.19999999999999" height="32.0" rx="5" fill="#fff" stroke="#999" stroke-width="0.8"/>
<text x="214.5" y="925" font-size="8.3" text-anchor="middle" fill="#222">Instruments</text>
<text x="214.5" y="933" font-size="8.3" text-anchor="middle" fill="#222">(see diagram 11)</text>
<path d="M256.3 705.5 L272.5 705.5 L272.5 695.5 L264.40000000000003 689.5 L256.3 695.5 Z" fill="#fff" stroke="#111" stroke-width="2.0" stroke-linejoin="miter"/>
<text x="264.40000000000003" y="703.01" font-size="7.8" text-anchor="middle" fill="#222">J8</text>
<path d="M264.3 705.5 L264.3 733.2" stroke="#9a9a9a" stroke-width="3.0" fill="none" stroke-linejoin="round"/>
<rect x="261.3" y="713.3" width="6" height="11" rx="0" fill="#fff" stroke="none" stroke-width="1"/>
<text x="267.108" y="718.8" font-size="7.8" text-anchor="middle" fill="#1a1a1a" transform="rotate(-90 267.108 718.8)">S</text>
<path d="M266.5 734.2 L267.25 733.10 Q268 732 269.33 732.00 L321.30 732.00 Q326.3 732 326.30 737.00 L326.3 904.6" stroke="#8e8e8e" stroke-width="3.6" fill="none" stroke-linejoin="round" stroke-linecap="butt"/>
<path d="M266.5 734.2 L267.25 733.10 Q268 732 269.33 732.00 L321.30 732.00 Q326.3 732 326.30 737.00 L326.3 904.6" stroke="#fff" stroke-width="1.6" fill="none" stroke-linejoin="round" stroke-linecap="butt"/>
<path d="M267.8 740.8 L301.50 740.80 Q306.5 740.8 306.50 745.80 L306.5 904.6" stroke="#8e8e8e" stroke-width="3.6" fill="none" stroke-linejoin="round" stroke-linecap="butt"/>
<path d="M267.8 740.8 L301.50 740.80 Q306.5 740.8 306.50 745.80 L306.5 904.6" stroke="#fff" stroke-width="1.6" fill="none" stroke-linejoin="round" stroke-linecap="butt"/>
<path d="M264.3 740.8 L264.3 854" stroke="#8e8e8e" stroke-width="3.6" fill="none" stroke-linejoin="round" stroke-linecap="butt"/>
<path d="M264.3 740.8 L264.3 854" stroke="#fff" stroke-width="1.6" fill="none" stroke-linejoin="round" stroke-linecap="butt"/>
<circle cx="264.3" cy="737" r="3.8" fill="#fff" stroke="#333" stroke-width="0.8"/>
<rect x="261.3" y="793.3" width="6" height="11" rx="0" fill="#fff" stroke="none" stroke-width="1"/>
<text x="267.108" y="798.8" font-size="7.8" text-anchor="middle" fill="#1a1a1a" transform="rotate(-90 267.108 798.8)">Y</text>
<rect x="303.5" y="793.3" width="6" height="11" rx="0" fill="#fff" stroke="none" stroke-width="1"/>
<text x="309.308" y="798.8" font-size="7.8" text-anchor="middle" fill="#1a1a1a" transform="rotate(-90 309.308 798.8)">Y</text>
<rect x="323.3" y="793.3" width="6" height="11" rx="0" fill="#fff" stroke="none" stroke-width="1"/>
<text x="329.108" y="798.8" font-size="7.8" text-anchor="middle" fill="#1a1a1a" transform="rotate(-90 329.108 798.8)">Y</text>
<text x="271.3" y="851.5" font-size="5.5" text-anchor="middle" fill="#333">#</text>
<rect x="233" y="860" width="62" height="45" rx="5" fill="#fff" stroke="#999" stroke-width="0.8"/>
<text x="264" y="876.3" font-size="8.3" text-anchor="middle" fill="#222">Door lock /</text>
<text x="264" y="884.5" font-size="8.3" text-anchor="middle" fill="#222">unlock switch</text>
<text x="264" y="893" font-size="8.3" text-anchor="middle" fill="#222">(see diagram 7,</text>
<text x="264" y="901.3" font-size="8.3" text-anchor="middle" fill="#222">central locking)</text>
<rect x="285" y="910.5" width="62.5" height="32.0" rx="5" fill="#fff" stroke="#999" stroke-width="0.8"/>
<text x="316.3" y="926.3" font-size="8.3" text-anchor="middle" fill="#222">Heated seats</text>
<text x="316.3" y="934.5" font-size="8.3" text-anchor="middle" fill="#222">(see diagram 9)</text>
<path d="M346.3 705.5 L363.0 705.5 L363.0 695.5 L354.65000000000003 689.5 L346.3 695.5 Z" fill="#fff" stroke="#111" stroke-width="2.0" stroke-linejoin="miter"/>
<text x="354.65000000000003" y="703.01" font-size="7.8" text-anchor="middle" fill="#222">H8</text>
<path d="M354.3 705.5 L354.30 731.65 Q354.3 737 359.65 737.00 L365 737" stroke="#bababa" stroke-width="2.8" fill="none" stroke-linejoin="round"/>
<rect x="351.3" y="713.3" width="6" height="11" rx="0" fill="#fff" stroke="none" stroke-width="1"/>
<text x="357.108" y="718.8" font-size="7.8" text-anchor="middle" fill="#1a1a1a" transform="rotate(-90 357.108 718.8)">P</text>
<path d="M369.5 733 L369.50 714.00 Q369.5 708 375.50 708.00 L703.8 708" stroke="#bababa" stroke-width="2.8" fill="none" stroke-linejoin="round"/>
<path d="M372.5 733.5 L372.50 725.30 Q372.5 718.3 379.50 718.30 L576.30 718.30 Q583.3 718.3 583.30 725.30 L583.3 773" stroke="#575757" stroke-width="3.3" fill="none" stroke-linejoin="round"/>
<path d="M376 734.5 L376.00 731.65 Q376 728.8 378.85 728.80 L535.20 728.80 Q540.2 728.8 540.20 733.80 L540.2 773" stroke="#575757" stroke-width="3.3" fill="none" stroke-linejoin="round"/>
<path d="M372.5 737 L492.00 737.00 Q497 737 497.00 742.00 L497 773" stroke="#9a9a9a" stroke-width="3.6" fill="none" stroke-linejoin="round" stroke-linecap="butt"/>
<path d="M372.5 737 L492.00 737.00 Q497 737 497.00 742.00 L497 773" stroke="#fff" stroke-width="1.6" fill="none" stroke-linejoin="round" stroke-linecap="butt"/>
<path d="M376 739.5 L376.00 742.90 Q376 746.3 379.40 746.30 L450.50 746.30 Q455.5 746.3 455.50 751.30 L455.5 854" stroke="#9a9a9a" stroke-width="3.0" fill="none" stroke-linejoin="round"/>
<path d="M372.5 740.5 L372.50 749.50 Q372.5 755.5 378.50 755.50 L412.00 755.50 Q418 755.5 418.00 761.50 L418 904.6" stroke="#bababa" stroke-width="2.8" fill="none" stroke-linejoin="round"/>
<path d="M369.5 740.5 L369.50 758.00 Q369.5 765 376.50 765.00 L398.50 765.00 Q405.5 765 405.50 772.00 L405.5 904.6" stroke="#575757" stroke-width="3.3" fill="none" stroke-linejoin="round"/>
<path d="M365 737 L359.65 737.00 Q354.3 737 354.30 742.35 L354.3 854" stroke="#9a9a9a" stroke-width="3.0" fill="none" stroke-linejoin="round"/>
<circle cx="368.8" cy="737" r="3.8" fill="#fff" stroke="#333" stroke-width="0.8"/>
<rect x="351.3" y="793.3" width="6" height="11" rx="0" fill="#fff" stroke="none" stroke-width="1"/>
<text x="357.108" y="798.8" font-size="7.8" text-anchor="middle" fill="#1a1a1a" transform="rotate(-90 357.108 798.8)">G</text>
<rect x="402.5" y="793.3" width="6" height="11" rx="0" fill="#fff" stroke="none" stroke-width="1"/>
<text x="408.308" y="798.8" font-size="7.8" text-anchor="middle" fill="#1a1a1a" transform="rotate(-90 408.308 798.8)">R</text>
<rect x="415" y="793.3" width="6" height="11" rx="0" fill="#fff" stroke="none" stroke-width="1"/>
<text x="420.808" y="798.8" font-size="7.8" text-anchor="middle" fill="#1a1a1a" transform="rotate(-90 420.808 798.8)">P</text>
<rect x="452.5" y="793.3" width="6" height="11" rx="0" fill="#fff" stroke="none" stroke-width="1"/>
<text x="458.308" y="798.8" font-size="7.8" text-anchor="middle" fill="#1a1a1a" transform="rotate(-90 458.308 798.8)">O</text>
<rect x="494" y="752.0" width="6" height="11" rx="0" fill="#fff" stroke="none" stroke-width="1"/>
<text x="499.808" y="757.5" font-size="7.8" text-anchor="middle" fill="#1a1a1a" transform="rotate(-90 499.808 757.5)">W</text>
<rect x="537.2" y="750.0" width="6" height="11" rx="0" fill="#fff" stroke="none" stroke-width="1"/>
<text x="543.008" y="755.5" font-size="7.8" text-anchor="middle" fill="#1a1a1a" transform="rotate(-90 543.008 755.5)">L</text>
<rect x="580.3" y="750.0" width="6" height="11" rx="0" fill="#fff" stroke="none" stroke-width="1"/>
<text x="586.108" y="755.5" font-size="7.8" text-anchor="middle" fill="#1a1a1a" transform="rotate(-90 586.108 755.5)">R</text>
<rect x="489.2" y="705" width="11" height="6" rx="0" fill="#fff" stroke="none" stroke-width="1"/>
<text x="494.7" y="710.81" font-size="7.8" text-anchor="middle" fill="#1a1a1a">P</text>
<rect x="640.8" y="705" width="11" height="6" rx="0" fill="#fff" stroke="none" stroke-width="1"/>
<text x="646.3" y="710.81" font-size="7.8" text-anchor="middle" fill="#1a1a1a">P</text>
<rect x="681.5" y="705" width="11" height="6" rx="0" fill="#fff" stroke="none" stroke-width="1"/>
<text x="687" y="710.81" font-size="7.8" text-anchor="middle" fill="#1a1a1a">P</text>
<rect x="333" y="860" width="66.5" height="33" rx="5" fill="#fff" stroke="#999" stroke-width="0.8"/>
<text x="366.3" y="876.3" font-size="8.3" text-anchor="middle" fill="#222">Audio system</text>
<text x="366.3" y="884.5" font-size="8.3" text-anchor="middle" fill="#222">(see diagram 10)</text>
<rect x="424.5" y="860" width="62.5" height="42.5" rx="5" fill="#fff" stroke="#999" stroke-width="0.8"/>
<text x="455.8" y="876.3" font-size="8.3" text-anchor="middle" fill="#222">Hazard waring</text>
<text x="455.8" y="884.5" font-size="8.3" text-anchor="middle" fill="#222">switch</text>
<text x="455.8" y="893" font-size="8.3" text-anchor="middle" fill="#222">(see diagram 3)</text>
<rect x="369.5" y="910.5" width="80.5" height="36.5" rx="5" fill="#fff" stroke="#999" stroke-width="0.8"/>
<text x="409.8" y="926.3" font-size="8.3" text-anchor="middle" fill="#222">Heater control panel</text>
<text x="409.8" y="934.5" font-size="8.3" text-anchor="middle" fill="#222">(see diagram 6,</text>
<text x="409.8" y="943" font-size="8.3" text-anchor="middle" fill="#222">rear screen heater)</text>
<text x="395.5" y="908.5" font-size="5.5" text-anchor="middle" fill="#333">Δ</text>
<text x="426" y="909.5" font-size="6" text-anchor="middle" fill="#333">*</text>
<path d="M625.7 712 L625.7 773" stroke="#575757" stroke-width="3.3" fill="none" stroke-linejoin="round"/>
<rect x="622.7" y="750.5" width="6" height="11" rx="0" fill="#fff" stroke="none" stroke-width="1"/>
<text x="628.508" y="756" font-size="7.8" text-anchor="middle" fill="#1a1a1a" transform="rotate(-90 628.508 756)">L</text>
<path d="M669 712 L669 773" stroke="#575757" stroke-width="3.3" fill="none" stroke-linejoin="round"/>
<rect x="666" y="750.5" width="6" height="11" rx="0" fill="#fff" stroke="none" stroke-width="1"/>
<text x="671.808" y="756" font-size="7.8" text-anchor="middle" fill="#1a1a1a" transform="rotate(-90 671.808 756)">L</text>
<circle cx="622.8" cy="708" r="3.8" fill="#fff" stroke="#333" stroke-width="0.8"/>
<circle cx="665" cy="708" r="3.8" fill="#fff" stroke="#333" stroke-width="0.8"/>
<circle cx="707.6" cy="708" r="3.8" fill="#fff" stroke="#333" stroke-width="0.8"/>
<path d="M710.5 710.5 L711.15 711.75 Q711.8 713 711.80 714.41 L711.8 855" stroke="#8e8e8e" stroke-width="3.6" fill="none" stroke-linejoin="round" stroke-linecap="butt"/>
<path d="M710.5 710.5 L711.15 711.75 Q711.8 713 711.80 714.41 L711.8 855" stroke="#fff" stroke-width="1.6" fill="none" stroke-linejoin="round" stroke-linecap="butt"/>
<rect x="708.8" y="793.5" width="6" height="11" rx="0" fill="#fff" stroke="none" stroke-width="1"/>
<text x="714.608" y="799" font-size="7.8" text-anchor="middle" fill="#1a1a1a" transform="rotate(-90 714.608 799)">Y</text>
<text x="719.6" y="853" font-size="6" text-anchor="middle" fill="#333">ƒ</text>
<rect x="681" y="861" width="62" height="42" rx="5" fill="#fff" stroke="#999" stroke-width="0.8"/>
<text x="712" y="877" font-size="8.3" text-anchor="middle" fill="#222">Door lock</text>
<text x="712" y="885" font-size="8.3" text-anchor="middle" fill="#222">(see diagram 7,</text>
<text x="712" y="892.4" font-size="8.3" text-anchor="middle" fill="#222">central locking)</text>
<rect x="475.59999999999997" y="781.9" width="38.60000000000002" height="68.5" rx="5" fill="#a9a9a9" filter="url(#blur)"/>
<rect x="473.4" y="779.5" width="38.60000000000002" height="68.5" rx="5" fill="#e4e4e4" stroke="#888" stroke-width="0.8" stroke-dasharray="0.9 1.1"/>
<rect x="476.08" y="783.5" width="13.83" height="9.8" rx="0" fill="#ababab" stroke="none" stroke-width="1"/>
<text x="483.0" y="791.71" font-size="9.2" text-anchor="middle" font-weight="bold" font-style="italic" fill="#111">42</text>
<path d="M497 785 L497 795" stroke="#1a1a1a" stroke-width="1.1" fill="none"/>
<path d="M497 795 L500.8 796.50 L493.2 799.50 L500.8 802.50 L493.2 805.50 L500.8 808.50 L493.2 811.50 L497 813" stroke="#111" stroke-width="1.6" fill="none" stroke-linejoin="miter"/>
<line x1="497" y1="813" x2="497" y2="818" stroke="#1a1a1a" stroke-width="1.1"/>
<circle cx="497" cy="827.4" r="9.2" fill="#fff" stroke="#444" stroke-width="0.7"/>
<line x1="497" y1="818.1999999999999" x2="497" y2="836.6" stroke="#222" stroke-width="1.1"/>
<path d="M493.4 822.8 L500.6 822.8 L497 827.6 Z" fill="#111"/>
<line x1="493" y1="828.8" x2="501" y2="828.8" stroke="#111" stroke-width="1.1"/>
<path d="M488.3 818.1999999999999 L484.8 811.1999999999999 M490.3 815.1999999999999 L486.3 809.1999999999999" stroke="#333" stroke-width="0.6" fill="none"/>
<path d="M484.8 811.1999999999999 l-0.4 3 l2.2 -1 Z M486.3 809.1999999999999 l-0.4 3 l2.2 -1 Z" fill="#222"/>
<line x1="497" y1="836.6" x2="497" y2="842.4" stroke="#1a1a1a" stroke-width="1.1"/>
<rect x="476.84" y="824.7" width="8.72" height="9.8" rx="0" fill="#ababab" stroke="none" stroke-width="1"/>
<text x="481.2" y="832.91" font-size="9.2" text-anchor="middle" font-weight="bold" font-style="italic" fill="#111">a</text>
<path d="M497 854.3 L497 917" stroke="#111111" stroke-width="3.4" fill="none" stroke-linejoin="round"/>
<rect x="494" y="880.5" width="6" height="11" rx="0" fill="#fff" stroke="none" stroke-width="1"/>
<text x="499.808" y="886" font-size="7.8" text-anchor="middle" fill="#1a1a1a" transform="rotate(-90 499.808 886)">B</text>
<rect x="518.8000000000001" y="781.9" width="37.39999999999998" height="68.5" rx="5" fill="#a9a9a9" filter="url(#blur)"/>
<rect x="516.6" y="779.5" width="37.39999999999998" height="68.5" rx="5" fill="#e4e4e4" stroke="#888" stroke-width="0.8" stroke-dasharray="0.9 1.1"/>
<rect x="519.28" y="783.5" width="13.83" height="9.8" rx="0" fill="#ababab" stroke="none" stroke-width="1"/>
<text x="526.2" y="791.71" font-size="9.2" text-anchor="middle" font-weight="bold" font-style="italic" fill="#111">98</text>
<path d="M540.2 785 L540.2 804.8 M540.2 824 L540.2 842.4" stroke="#1a1a1a" stroke-width="1.1" fill="none"/>
<circle cx="540.2" cy="814.4" r="9.6" fill="#fff" stroke="#222" stroke-width="0.9"/>
<path d="M533.4118400000001 807.61184 L546.98816 821.1881599999999 M533.4118400000001 821.1881599999999 L546.98816 807.61184" stroke="#222" stroke-width="0.9" fill="none"/>
<path d="M540.2 854.3 L540.2 922" stroke="#111111" stroke-width="3.4" fill="none" stroke-linejoin="round"/>
<rect x="537.2" y="880.5" width="6" height="11" rx="0" fill="#fff" stroke="none" stroke-width="1"/>
<text x="543.008" y="886" font-size="7.8" text-anchor="middle" fill="#1a1a1a" transform="rotate(-90 543.008 886)">B</text>
<rect x="561.6" y="781.9" width="38.0" height="68.5" rx="5" fill="#a9a9a9" filter="url(#blur)"/>
<rect x="559.4" y="779.5" width="38.0" height="68.5" rx="5" fill="#e4e4e4" stroke="#888" stroke-width="0.8" stroke-dasharray="0.9 1.1"/>
<rect x="565.04" y="783.5" width="8.72" height="9.8" rx="0" fill="#ababab" stroke="none" stroke-width="1"/>
<text x="569.4" y="791.71" font-size="9.2" text-anchor="middle" font-weight="bold" font-style="italic" fill="#111">8</text>
<path d="M583.3 785 L583.3 804.8 M583.3 824 L583.3 842.4" stroke="#1a1a1a" stroke-width="1.1" fill="none"/>
<circle cx="583.3" cy="814.4" r="9.6" fill="#fff" stroke="#222" stroke-width="0.9"/>
<path d="M576.51184 807.61184 L590.0881599999999 821.1881599999999 M576.51184 821.1881599999999 L590.0881599999999 807.61184" stroke="#222" stroke-width="0.9" fill="none"/>
<rect x="567.84" y="824.7" width="8.72" height="9.8" rx="0" fill="#ababab" stroke="none" stroke-width="1"/>
<text x="572.2" y="832.91" font-size="9.2" text-anchor="middle" font-weight="bold" font-style="italic" fill="#111">a</text>
<path d="M583.3 854.3 L583.3 922" stroke="#111111" stroke-width="3.4" fill="none" stroke-linejoin="round"/>
<rect x="580.3" y="880.5" width="6" height="11" rx="0" fill="#fff" stroke="none" stroke-width="1"/>
<text x="586.108" y="886" font-size="7.8" text-anchor="middle" fill="#1a1a1a" transform="rotate(-90 586.108 886)">B</text>
<rect x="604.6" y="781.9" width="37.60000000000002" height="68.5" rx="5" fill="#a9a9a9" filter="url(#blur)"/>
<rect x="602.4" y="779.5" width="37.60000000000002" height="68.5" rx="5" fill="#e4e4e4" stroke="#888" stroke-width="0.8" stroke-dasharray="0.9 1.1"/>
<rect x="605.08" y="783.5" width="13.83" height="9.8" rx="0" fill="#ababab" stroke="none" stroke-width="1"/>
<text x="612.0" y="791.71" font-size="9.2" text-anchor="middle" font-weight="bold" font-style="italic" fill="#111">60</text>
<path d="M625.7 785 L625.7 795" stroke="#1a1a1a" stroke-width="1.1" fill="none"/>
<path d="M625.7 795 L629.5 796.50 L621.9000000000001 799.50 L629.5 802.50 L621.9000000000001 805.50 L629.5 808.50 L621.9000000000001 811.50 L625.7 813" stroke="#111" stroke-width="1.6" fill="none" stroke-linejoin="miter"/>
<line x1="625.7" y1="813" x2="625.7" y2="818" stroke="#1a1a1a" stroke-width="1.1"/>
<circle cx="625.7" cy="827.4" r="9.2" fill="#fff" stroke="#444" stroke-width="0.7"/>
<line x1="625.7" y1="818.1999999999999" x2="625.7" y2="836.6" stroke="#222" stroke-width="1.1"/>
<path d="M622.1 822.8 L629.3000000000001 822.8 L625.7 827.6 Z" fill="#111"/>
<line x1="621.7" y1="828.8" x2="629.7" y2="828.8" stroke="#111" stroke-width="1.1"/>
<path d="M617.0 818.1999999999999 L613.5 811.1999999999999 M619.0 815.1999999999999 L615.0 809.1999999999999" stroke="#333" stroke-width="0.6" fill="none"/>
<path d="M613.5 811.1999999999999 l-0.4 3 l2.2 -1 Z M615.0 809.1999999999999 l-0.4 3 l2.2 -1 Z" fill="#222"/>
<line x1="625.7" y1="836.6" x2="625.7" y2="842.4" stroke="#1a1a1a" stroke-width="1.1"/>
<rect x="605.84" y="824.7" width="8.72" height="9.8" rx="0" fill="#ababab" stroke="none" stroke-width="1"/>
<text x="610.1999999999999" y="832.91" font-size="9.2" text-anchor="middle" font-weight="bold" font-style="italic" fill="#111">a</text>
<path d="M625.7 854.3 L625.7 922" stroke="#111111" stroke-width="3.4" fill="none" stroke-linejoin="round"/>
<rect x="622.7" y="880.5" width="6" height="11" rx="0" fill="#fff" stroke="none" stroke-width="1"/>
<text x="628.508" y="886" font-size="7.8" text-anchor="middle" fill="#1a1a1a" transform="rotate(-90 628.508 886)">B</text>
<rect x="647.8000000000001" y="781.9" width="37.39999999999998" height="68.5" rx="5" fill="#a9a9a9" filter="url(#blur)"/>
<rect x="645.6" y="779.5" width="37.39999999999998" height="68.5" rx="5" fill="#e4e4e4" stroke="#888" stroke-width="0.8" stroke-dasharray="0.9 1.1"/>
<rect x="648.28" y="783.5" width="13.83" height="9.8" rx="0" fill="#ababab" stroke="none" stroke-width="1"/>
<text x="655.2" y="791.71" font-size="9.2" text-anchor="middle" font-weight="bold" font-style="italic" fill="#111">99</text>
<path d="M669 785 L669 795" stroke="#1a1a1a" stroke-width="1.1" fill="none"/>
<path d="M669 795 L672.8 796.50 L665.2 799.50 L672.8 802.50 L665.2 805.50 L672.8 808.50 L665.2 811.50 L669 813" stroke="#111" stroke-width="1.6" fill="none" stroke-linejoin="miter"/>
<line x1="669" y1="813" x2="669" y2="818" stroke="#1a1a1a" stroke-width="1.1"/>
<circle cx="669" cy="827.4" r="9.2" fill="#fff" stroke="#444" stroke-width="0.7"/>
<line x1="669" y1="818.1999999999999" x2="669" y2="836.6" stroke="#222" stroke-width="1.1"/>
<path d="M665.4 822.8 L672.6 822.8 L669 827.6 Z" fill="#111"/>
<line x1="665" y1="828.8" x2="673" y2="828.8" stroke="#111" stroke-width="1.1"/>
<path d="M660.3 818.1999999999999 L656.8 811.1999999999999 M662.3 815.1999999999999 L658.3 809.1999999999999" stroke="#333" stroke-width="0.6" fill="none"/>
<path d="M656.8 811.1999999999999 l-0.4 3 l2.2 -1 Z M658.3 809.1999999999999 l-0.4 3 l2.2 -1 Z" fill="#222"/>
<line x1="669" y1="836.6" x2="669" y2="842.4" stroke="#1a1a1a" stroke-width="1.1"/>
<rect x="649.04" y="824.7" width="8.72" height="9.8" rx="0" fill="#ababab" stroke="none" stroke-width="1"/>
<text x="653.4" y="832.91" font-size="9.2" text-anchor="middle" font-weight="bold" font-style="italic" fill="#111">a</text>
<path d="M669 854.3 L669 917" stroke="#111111" stroke-width="3.4" fill="none" stroke-linejoin="round"/>
<rect x="666" y="880.5" width="6" height="11" rx="0" fill="#fff" stroke="none" stroke-width="1"/>
<text x="671.808" y="886" font-size="7.8" text-anchor="middle" fill="#1a1a1a" transform="rotate(-90 671.808 886)">B</text>
<path d="M497 917 L497.00 919.50 Q497 922 499.50 922.00 L666.50 922.00 Q669 922 669.00 919.50 L669 917" stroke="#111111" stroke-width="3.4" fill="none" stroke-linejoin="round"/>
<circle cx="583.2" cy="926.5" r="3.8" fill="#111" stroke="none" stroke-width="0"/>
<path d="M571.2 935.2 l3.5 -1.8 l0 3.6 Z M595.2 935.2 l-3.5 -1.8 l0 3.6 Z" fill="#111"/>
<ellipse cx="583.2" cy="935.2" rx="8.6" ry="4.6" fill="#fff" stroke="#333" stroke-width="0.7"/>
<text x="583.2" y="937.86" font-size="7.4" text-anchor="middle" fill="#222">E6</text>
<path d="M575.2 938.4000000000001 Q583.2 942.7 591.2 938.4000000000001" stroke="#111" stroke-width="1.0" fill="none"/>
<path d="M577.7 942.0 Q583.2 944.2 588.7 942.0" stroke="#111" stroke-width="1.2" fill="none"/>
<path d="M581.6 945.5 L584.8000000000001 945.5 L583.2 947.2 Z" fill="#111"/>
<circle cx="102" cy="731.8" r="5.9" fill="#fff" stroke="#444" stroke-width="0.85"/>
<text x="102" y="734.43" font-size="7.3" text-anchor="middle" fill="#222" letter-spacing="-0.35">78</text>
<circle cx="102" cy="817" r="5.9" fill="#fff" stroke="#444" stroke-width="0.85"/>
<text x="102" y="819.88" font-size="8.0" text-anchor="middle" fill="#222">1</text>
<circle cx="150" cy="817" r="5.9" fill="#fff" stroke="#444" stroke-width="0.85"/>
<text x="150" y="819.88" font-size="8.0" text-anchor="middle" fill="#222">5</text>
<circle cx="102" cy="887" r="5.9" fill="#fff" stroke="#444" stroke-width="0.85"/>
<text x="102" y="889.88" font-size="8.0" text-anchor="middle" fill="#222">7</text>
<circle cx="150" cy="887" r="5.9" fill="#fff" stroke="#444" stroke-width="0.85"/>
<text x="150" y="889.88" font-size="8.0" text-anchor="middle" fill="#222">7</text>
<circle cx="214.5" cy="910.5" r="5.9" fill="#fff" stroke="#444" stroke-width="0.85"/>
<text x="214.5" y="913.13" font-size="7.3" text-anchor="middle" fill="#222" letter-spacing="-0.35">27</text>
<circle cx="263.8" cy="860" r="5.9" fill="#fff" stroke="#444" stroke-width="0.85"/>
<text x="263.8" y="862.88" font-size="8.0" text-anchor="middle" fill="#222">2</text>
<circle cx="306.8" cy="910.5" r="5.9" fill="#fff" stroke="#444" stroke-width="0.85"/>
<text x="306.8" y="913.38" font-size="8.0" text-anchor="middle" fill="#222">5</text>
<circle cx="325.5" cy="910.5" r="5.9" fill="#fff" stroke="#444" stroke-width="0.85"/>
<text x="325.5" y="913.38" font-size="8.0" text-anchor="middle" fill="#222">5</text>
<circle cx="354.3" cy="860" r="5.9" fill="#fff" stroke="#444" stroke-width="0.85"/>
<text x="354.3" y="862.63" font-size="7.3" text-anchor="middle" fill="#222" letter-spacing="-0.35">36</text>
<circle cx="455" cy="860" r="5.9" fill="#fff" stroke="#444" stroke-width="0.85"/>
<text x="455" y="862.88" font-size="8.0" text-anchor="middle" fill="#222">3</text>
<circle cx="405" cy="910.5" r="5.9" fill="#fff" stroke="#444" stroke-width="0.85"/>
<text x="405" y="913.13" font-size="7.3" text-anchor="middle" fill="#222" letter-spacing="-0.35">15</text>
<circle cx="417.5" cy="910.5" r="5.9" fill="#fff" stroke="#444" stroke-width="0.85"/>
<text x="417.5" y="913.13" font-size="7.3" text-anchor="middle" fill="#222" letter-spacing="-0.35">11</text>
<circle cx="497" cy="779.2" r="5.9" fill="#fff" stroke="#444" stroke-width="0.85"/>
<text x="497" y="782.08" font-size="8.0" text-anchor="middle" fill="#222">3</text>
<circle cx="497" cy="848.4" r="5.9" fill="#fff" stroke="#444" stroke-width="0.85"/>
<text x="497" y="851.28" font-size="8.0" text-anchor="middle" fill="#222">4</text>
<circle cx="540.2" cy="779.2" r="5.9" fill="#fff" stroke="#444" stroke-width="0.85"/>
<text x="540.2" y="782.08" font-size="8.0" text-anchor="middle" fill="#222">1</text>
<circle cx="540.2" cy="848.4" r="5.9" fill="#fff" stroke="#444" stroke-width="0.85"/>
<text x="540.2" y="851.28" font-size="8.0" text-anchor="middle" fill="#222">2</text>
<circle cx="583.3" cy="779.2" r="5.9" fill="#fff" stroke="#444" stroke-width="0.85"/>
<text x="583.3" y="782.08" font-size="8.0" text-anchor="middle" fill="#222">5</text>
<circle cx="583.3" cy="848.4" r="5.9" fill="#fff" stroke="#444" stroke-width="0.85"/>
<text x="583.3" y="851.28" font-size="8.0" text-anchor="middle" fill="#222">4</text>
<circle cx="625.7" cy="779.2" r="5.9" fill="#fff" stroke="#444" stroke-width="0.85"/>
<text x="625.7" y="782.08" font-size="8.0" text-anchor="middle" fill="#222">3</text>
<circle cx="625.7" cy="848.4" r="5.9" fill="#fff" stroke="#444" stroke-width="0.85"/>
<text x="625.7" y="851.28" font-size="8.0" text-anchor="middle" fill="#222">4</text>
<circle cx="669" cy="779.2" r="5.9" fill="#fff" stroke="#444" stroke-width="0.85"/>
<text x="669" y="782.08" font-size="8.0" text-anchor="middle" fill="#222">3</text>
<circle cx="669" cy="848.4" r="5.9" fill="#fff" stroke="#444" stroke-width="0.85"/>
<text x="669" y="851.28" font-size="8.0" text-anchor="middle" fill="#222">4</text>
<circle cx="711.8" cy="861" r="5.9" fill="#fff" stroke="#444" stroke-width="0.85"/>
<text x="711.8" y="863.88" font-size="8.0" text-anchor="middle" fill="#222">2</text>
<text x="463" y="1025" font-size="10.75" text-anchor="end" fill="#222">Nissan Micra - OWM 4734</text>
</svg></body></html>
